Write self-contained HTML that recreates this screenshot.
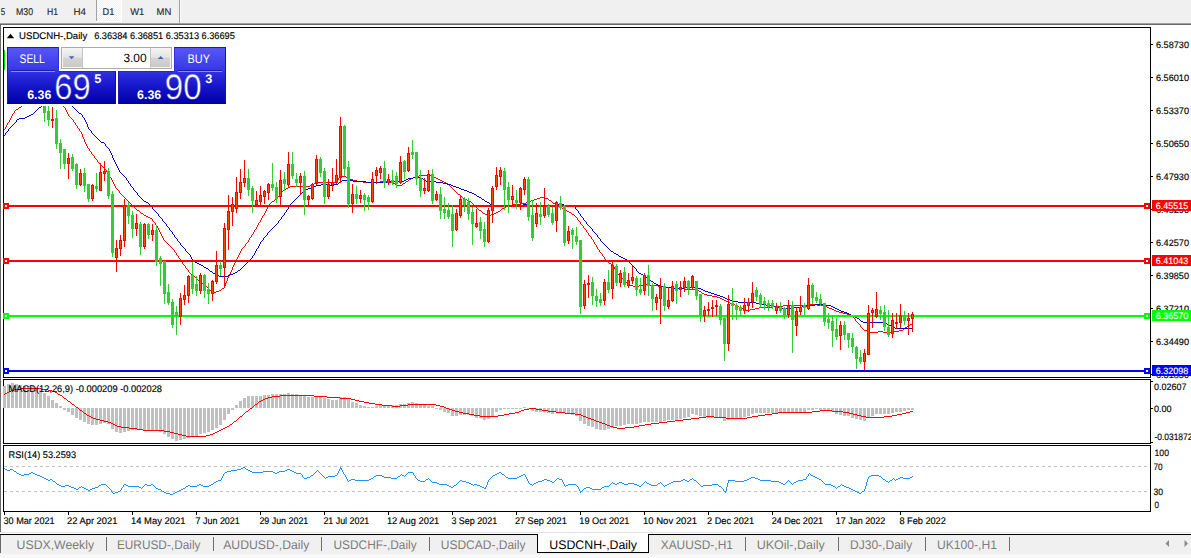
<!DOCTYPE html>
<html><head><meta charset="utf-8"><title>USDCNH Daily</title><style>html,body{margin:0;padding:0;background:#fff;}body{width:1191px;height:558px;overflow:hidden;position:relative;font-family:"Liberation Sans",sans-serif;}</style></head><body><svg width="1191" height="558" viewBox="0 0 1191 558" style="display:block;position:absolute;left:0;top:0" font-family="Liberation Sans, sans-serif" text-rendering="geometricPrecision"><g shape-rendering="crispEdges"><rect x="0" y="0" width="1191" height="558" fill="#fff" /><rect x="0" y="0" width="1191" height="23" fill="#f0f0f0" /><rect x="0" y="23" width="1191" height="1" fill="#a0a0a0" /><rect x="0" y="24" width="1191" height="1" fill="#696969" /><rect x="0" y="24" width="1" height="508" fill="#696969" /><rect x="96" y="0" width="1" height="21" fill="#a0a0a0" /><defs><pattern id="ck" width="2" height="2" patternUnits="userSpaceOnUse"><rect width="2" height="2" fill="#f0f0f0"/><rect width="1" height="1" fill="#fff"/><rect x="1" y="1" width="1" height="1" fill="#fff"/></pattern></defs><rect x="97" y="0" width="24" height="21" fill="url(#ck)" /><rect x="121" y="0" width="1" height="22" fill="#fff" /><rect x="96" y="21" width="26" height="1" fill="#fff" /><rect x="179" y="0" width="1" height="23" fill="#a0a0a0" /><rect x="180" y="0" width="1" height="23" fill="#fbfbfb" /><rect x="3" y="27" width="1148" height="1" fill="#000" /><rect x="3" y="377" width="1148" height="1" fill="#000" /><rect x="3" y="27" width="1" height="351" fill="#000" /><rect x="1150" y="27" width="1" height="351" fill="#000" /><rect x="3" y="379" width="1148" height="1" fill="#000" /><rect x="3" y="443" width="1148" height="1" fill="#000" /><rect x="3" y="379" width="1" height="65" fill="#000" /><rect x="1150" y="379" width="1" height="65" fill="#000" /><rect x="3" y="445" width="1148" height="1" fill="#000" /><rect x="3" y="511" width="1148" height="1" fill="#000" /><rect x="3" y="445" width="1" height="67" fill="#000" /><rect x="1150" y="445" width="1" height="67" fill="#000" /><rect x="1151" y="44" width="2" height="1" fill="#000" /><rect x="1151" y="77" width="2" height="1" fill="#000" /><rect x="1151" y="110" width="2" height="1" fill="#000" /><rect x="1151" y="143" width="2" height="1" fill="#000" /><rect x="1151" y="176" width="2" height="1" fill="#000" /><rect x="1151" y="209" width="2" height="1" fill="#000" /><rect x="1151" y="242" width="2" height="1" fill="#000" /><rect x="1151" y="275" width="2" height="1" fill="#000" /><rect x="1151" y="308" width="2" height="1" fill="#000" /><rect x="1151" y="341" width="2" height="1" fill="#000" /><rect x="1151" y="374" width="2" height="1" fill="#000" /><rect x="3" y="386" width="3" height="22" fill="#c0c0c0" /><rect x="7" y="384" width="3" height="24" fill="#c0c0c0" /><rect x="11" y="383" width="3" height="25" fill="#c0c0c0" /><rect x="15" y="384" width="3" height="24" fill="#c0c0c0" /><rect x="19" y="385" width="3" height="23" fill="#c0c0c0" /><rect x="23" y="386" width="3" height="22" fill="#c0c0c0" /><rect x="27" y="386" width="3" height="22" fill="#c0c0c0" /><rect x="31" y="387" width="3" height="21" fill="#c0c0c0" /><rect x="35" y="388" width="3" height="20" fill="#c0c0c0" /><rect x="39" y="390" width="3" height="18" fill="#c0c0c0" /><rect x="43" y="393" width="3" height="15" fill="#c0c0c0" /><rect x="47" y="396" width="3" height="12" fill="#c0c0c0" /><rect x="51" y="400" width="3" height="8" fill="#c0c0c0" /><rect x="55" y="403" width="3" height="5" fill="#c0c0c0" /><rect x="59" y="406" width="3" height="2" fill="#c0c0c0" /><rect x="63" y="408" width="3" height="2" fill="#c0c0c0" /><rect x="67" y="408" width="3" height="4" fill="#c0c0c0" /><rect x="71" y="408" width="3" height="7" fill="#c0c0c0" /><rect x="75" y="408" width="3" height="10" fill="#c0c0c0" /><rect x="79" y="408" width="3" height="12" fill="#c0c0c0" /><rect x="83" y="408" width="3" height="14" fill="#c0c0c0" /><rect x="87" y="408" width="3" height="16" fill="#c0c0c0" /><rect x="91" y="408" width="3" height="17" fill="#c0c0c0" /><rect x="95" y="408" width="3" height="17" fill="#c0c0c0" /><rect x="99" y="408" width="3" height="16" fill="#c0c0c0" /><rect x="103" y="408" width="3" height="15" fill="#c0c0c0" /><rect x="107" y="408" width="3" height="16" fill="#c0c0c0" /><rect x="111" y="408" width="3" height="21" fill="#c0c0c0" /><rect x="115" y="408" width="3" height="24" fill="#c0c0c0" /><rect x="119" y="408" width="3" height="25" fill="#c0c0c0" /><rect x="123" y="408" width="3" height="24" fill="#c0c0c0" /><rect x="127" y="408" width="3" height="23" fill="#c0c0c0" /><rect x="131" y="408" width="3" height="22" fill="#c0c0c0" /><rect x="135" y="408" width="3" height="22" fill="#c0c0c0" /><rect x="139" y="408" width="3" height="22" fill="#c0c0c0" /><rect x="143" y="408" width="3" height="22" fill="#c0c0c0" /><rect x="147" y="408" width="3" height="22" fill="#c0c0c0" /><rect x="151" y="408" width="3" height="22" fill="#c0c0c0" /><rect x="155" y="408" width="3" height="22" fill="#c0c0c0" /><rect x="159" y="408" width="3" height="24" fill="#c0c0c0" /><rect x="163" y="408" width="3" height="26" fill="#c0c0c0" /><rect x="167" y="408" width="3" height="29" fill="#c0c0c0" /><rect x="171" y="408" width="3" height="31" fill="#c0c0c0" /><rect x="175" y="408" width="3" height="33" fill="#c0c0c0" /><rect x="179" y="408" width="3" height="32" fill="#c0c0c0" /><rect x="183" y="408" width="3" height="31" fill="#c0c0c0" /><rect x="187" y="408" width="3" height="30" fill="#c0c0c0" /><rect x="191" y="408" width="3" height="29" fill="#c0c0c0" /><rect x="195" y="408" width="3" height="28" fill="#c0c0c0" /><rect x="199" y="408" width="3" height="26" fill="#c0c0c0" /><rect x="203" y="408" width="3" height="25" fill="#c0c0c0" /><rect x="207" y="408" width="3" height="24" fill="#c0c0c0" /><rect x="211" y="408" width="3" height="22" fill="#c0c0c0" /><rect x="215" y="408" width="3" height="20" fill="#c0c0c0" /><rect x="219" y="408" width="3" height="17" fill="#c0c0c0" /><rect x="223" y="408" width="3" height="12" fill="#c0c0c0" /><rect x="227" y="408" width="3" height="6" fill="#c0c0c0" /><rect x="231" y="408" width="3" height="2" fill="#c0c0c0" /><rect x="235" y="405" width="3" height="3" fill="#c0c0c0" /><rect x="239" y="401" width="3" height="7" fill="#c0c0c0" /><rect x="243" y="398" width="3" height="10" fill="#c0c0c0" /><rect x="247" y="396" width="3" height="12" fill="#c0c0c0" /><rect x="251" y="396" width="3" height="12" fill="#c0c0c0" /><rect x="255" y="396" width="3" height="12" fill="#c0c0c0" /><rect x="259" y="396" width="3" height="12" fill="#c0c0c0" /><rect x="263" y="395" width="3" height="13" fill="#c0c0c0" /><rect x="267" y="395" width="3" height="13" fill="#c0c0c0" /><rect x="271" y="394" width="3" height="14" fill="#c0c0c0" /><rect x="275" y="394" width="3" height="14" fill="#c0c0c0" /><rect x="279" y="394" width="3" height="14" fill="#c0c0c0" /><rect x="283" y="394" width="3" height="14" fill="#c0c0c0" /><rect x="287" y="393" width="3" height="15" fill="#c0c0c0" /><rect x="291" y="394" width="3" height="14" fill="#c0c0c0" /><rect x="295" y="394" width="3" height="14" fill="#c0c0c0" /><rect x="299" y="395" width="3" height="13" fill="#c0c0c0" /><rect x="303" y="396" width="3" height="12" fill="#c0c0c0" /><rect x="307" y="397" width="3" height="11" fill="#c0c0c0" /><rect x="311" y="397" width="3" height="11" fill="#c0c0c0" /><rect x="315" y="397" width="3" height="11" fill="#c0c0c0" /><rect x="319" y="397" width="3" height="11" fill="#c0c0c0" /><rect x="323" y="398" width="3" height="10" fill="#c0c0c0" /><rect x="327" y="399" width="3" height="9" fill="#c0c0c0" /><rect x="331" y="400" width="3" height="8" fill="#c0c0c0" /><rect x="335" y="400" width="3" height="8" fill="#c0c0c0" /><rect x="339" y="397" width="3" height="11" fill="#c0c0c0" /><rect x="343" y="397" width="3" height="11" fill="#c0c0c0" /><rect x="347" y="399" width="3" height="9" fill="#c0c0c0" /><rect x="351" y="402" width="3" height="6" fill="#c0c0c0" /><rect x="355" y="403" width="3" height="5" fill="#c0c0c0" /><rect x="359" y="405" width="3" height="3" fill="#c0c0c0" /><rect x="363" y="406" width="3" height="2" fill="#c0c0c0" /><rect x="367" y="407" width="3" height="1" fill="#c0c0c0" /><rect x="371" y="407" width="3" height="1" fill="#c0c0c0" /><rect x="375" y="406" width="3" height="2" fill="#c0c0c0" /><rect x="379" y="405" width="3" height="3" fill="#c0c0c0" /><rect x="383" y="405" width="3" height="3" fill="#c0c0c0" /><rect x="387" y="405" width="3" height="3" fill="#c0c0c0" /><rect x="391" y="405" width="3" height="3" fill="#c0c0c0" /><rect x="395" y="405" width="3" height="3" fill="#c0c0c0" /><rect x="399" y="404" width="3" height="4" fill="#c0c0c0" /><rect x="403" y="404" width="3" height="4" fill="#c0c0c0" /><rect x="407" y="403" width="3" height="5" fill="#c0c0c0" /><rect x="411" y="402" width="3" height="6" fill="#c0c0c0" /><rect x="415" y="403" width="3" height="5" fill="#c0c0c0" /><rect x="419" y="404" width="3" height="4" fill="#c0c0c0" /><rect x="423" y="405" width="3" height="3" fill="#c0c0c0" /><rect x="427" y="406" width="3" height="2" fill="#c0c0c0" /><rect x="431" y="406" width="3" height="2" fill="#c0c0c0" /><rect x="435" y="408" width="3" height="1" fill="#c0c0c0" /><rect x="439" y="408" width="3" height="2" fill="#c0c0c0" /><rect x="443" y="408" width="3" height="4" fill="#c0c0c0" /><rect x="447" y="408" width="3" height="5" fill="#c0c0c0" /><rect x="451" y="408" width="3" height="8" fill="#c0c0c0" /><rect x="455" y="408" width="3" height="8" fill="#c0c0c0" /><rect x="459" y="408" width="3" height="7" fill="#c0c0c0" /><rect x="463" y="408" width="3" height="7" fill="#c0c0c0" /><rect x="467" y="408" width="3" height="7" fill="#c0c0c0" /><rect x="471" y="408" width="3" height="8" fill="#c0c0c0" /><rect x="475" y="408" width="3" height="10" fill="#c0c0c0" /><rect x="479" y="408" width="3" height="10" fill="#c0c0c0" /><rect x="483" y="408" width="3" height="12" fill="#c0c0c0" /><rect x="487" y="408" width="3" height="11" fill="#c0c0c0" /><rect x="491" y="408" width="3" height="8" fill="#c0c0c0" /><rect x="495" y="408" width="3" height="4" fill="#c0c0c0" /><rect x="499" y="408" width="3" height="2" fill="#c0c0c0" /><rect x="503" y="408" width="3" height="1" fill="#c0c0c0" /><rect x="507" y="408" width="3" height="1" fill="#c0c0c0" /><rect x="511" y="408" width="3" height="1" fill="#c0c0c0" /><rect x="515" y="408" width="3" height="1" fill="#c0c0c0" /><rect x="519" y="408" width="3" height="1" fill="#c0c0c0" /><rect x="523" y="407" width="3" height="1" fill="#c0c0c0" /><rect x="527" y="408" width="3" height="1" fill="#c0c0c0" /><rect x="531" y="408" width="3" height="3" fill="#c0c0c0" /><rect x="535" y="408" width="3" height="4" fill="#c0c0c0" /><rect x="539" y="408" width="3" height="4" fill="#c0c0c0" /><rect x="543" y="408" width="3" height="4" fill="#c0c0c0" /><rect x="547" y="408" width="3" height="5" fill="#c0c0c0" /><rect x="551" y="408" width="3" height="6" fill="#c0c0c0" /><rect x="555" y="408" width="3" height="4" fill="#c0c0c0" /><rect x="559" y="408" width="3" height="4" fill="#c0c0c0" /><rect x="563" y="408" width="3" height="5" fill="#c0c0c0" /><rect x="567" y="408" width="3" height="6" fill="#c0c0c0" /><rect x="571" y="408" width="3" height="7" fill="#c0c0c0" /><rect x="575" y="408" width="3" height="8" fill="#c0c0c0" /><rect x="579" y="408" width="3" height="13" fill="#c0c0c0" /><rect x="583" y="408" width="3" height="16" fill="#c0c0c0" /><rect x="587" y="408" width="3" height="18" fill="#c0c0c0" /><rect x="591" y="408" width="3" height="19" fill="#c0c0c0" /><rect x="595" y="408" width="3" height="21" fill="#c0c0c0" /><rect x="599" y="408" width="3" height="22" fill="#c0c0c0" /><rect x="603" y="408" width="3" height="22" fill="#c0c0c0" /><rect x="607" y="408" width="3" height="21" fill="#c0c0c0" /><rect x="611" y="408" width="3" height="20" fill="#c0c0c0" /><rect x="615" y="408" width="3" height="18" fill="#c0c0c0" /><rect x="619" y="408" width="3" height="18" fill="#c0c0c0" /><rect x="623" y="408" width="3" height="17" fill="#c0c0c0" /><rect x="627" y="408" width="3" height="16" fill="#c0c0c0" /><rect x="631" y="408" width="3" height="16" fill="#c0c0c0" /><rect x="635" y="408" width="3" height="16" fill="#c0c0c0" /><rect x="639" y="408" width="3" height="15" fill="#c0c0c0" /><rect x="643" y="408" width="3" height="14" fill="#c0c0c0" /><rect x="647" y="408" width="3" height="14" fill="#c0c0c0" /><rect x="651" y="408" width="3" height="14" fill="#c0c0c0" /><rect x="655" y="408" width="3" height="14" fill="#c0c0c0" /><rect x="659" y="408" width="3" height="14" fill="#c0c0c0" /><rect x="663" y="408" width="3" height="13" fill="#c0c0c0" /><rect x="667" y="408" width="3" height="12" fill="#c0c0c0" /><rect x="671" y="408" width="3" height="12" fill="#c0c0c0" /><rect x="675" y="408" width="3" height="12" fill="#c0c0c0" /><rect x="679" y="408" width="3" height="11" fill="#c0c0c0" /><rect x="683" y="408" width="3" height="10" fill="#c0c0c0" /><rect x="687" y="408" width="3" height="9" fill="#c0c0c0" /><rect x="691" y="408" width="3" height="6" fill="#c0c0c0" /><rect x="695" y="408" width="3" height="7" fill="#c0c0c0" /><rect x="699" y="408" width="3" height="8" fill="#c0c0c0" /><rect x="703" y="408" width="3" height="9" fill="#c0c0c0" /><rect x="707" y="408" width="3" height="10" fill="#c0c0c0" /><rect x="711" y="408" width="3" height="10" fill="#c0c0c0" /><rect x="715" y="408" width="3" height="10" fill="#c0c0c0" /><rect x="719" y="408" width="3" height="10" fill="#c0c0c0" /><rect x="723" y="408" width="3" height="13" fill="#c0c0c0" /><rect x="727" y="408" width="3" height="12" fill="#c0c0c0" /><rect x="731" y="408" width="3" height="11" fill="#c0c0c0" /><rect x="735" y="408" width="3" height="10" fill="#c0c0c0" /><rect x="739" y="408" width="3" height="10" fill="#c0c0c0" /><rect x="743" y="408" width="3" height="9" fill="#c0c0c0" /><rect x="747" y="408" width="3" height="8" fill="#c0c0c0" /><rect x="751" y="408" width="3" height="6" fill="#c0c0c0" /><rect x="755" y="408" width="3" height="5" fill="#c0c0c0" /><rect x="759" y="408" width="3" height="5" fill="#c0c0c0" /><rect x="763" y="408" width="3" height="5" fill="#c0c0c0" /><rect x="767" y="408" width="3" height="5" fill="#c0c0c0" /><rect x="771" y="408" width="3" height="5" fill="#c0c0c0" /><rect x="775" y="408" width="3" height="5" fill="#c0c0c0" /><rect x="779" y="408" width="3" height="4" fill="#c0c0c0" /><rect x="783" y="408" width="3" height="4" fill="#c0c0c0" /><rect x="787" y="408" width="3" height="4" fill="#c0c0c0" /><rect x="791" y="408" width="3" height="4" fill="#c0c0c0" /><rect x="795" y="408" width="3" height="5" fill="#c0c0c0" /><rect x="799" y="408" width="3" height="4" fill="#c0c0c0" /><rect x="803" y="408" width="3" height="4" fill="#c0c0c0" /><rect x="807" y="408" width="3" height="2" fill="#c0c0c0" /><rect x="811" y="408" width="3" height="2" fill="#c0c0c0" /><rect x="815" y="408" width="3" height="1" fill="#c0c0c0" /><rect x="819" y="408" width="3" height="2" fill="#c0c0c0" /><rect x="823" y="408" width="3" height="2" fill="#c0c0c0" /><rect x="827" y="408" width="3" height="3" fill="#c0c0c0" /><rect x="831" y="408" width="3" height="4" fill="#c0c0c0" /><rect x="835" y="408" width="3" height="6" fill="#c0c0c0" /><rect x="839" y="408" width="3" height="7" fill="#c0c0c0" /><rect x="843" y="408" width="3" height="8" fill="#c0c0c0" /><rect x="847" y="408" width="3" height="8" fill="#c0c0c0" /><rect x="851" y="408" width="3" height="10" fill="#c0c0c0" /><rect x="855" y="408" width="3" height="11" fill="#c0c0c0" /><rect x="859" y="408" width="3" height="12" fill="#c0c0c0" /><rect x="863" y="408" width="3" height="13" fill="#c0c0c0" /><rect x="867" y="408" width="3" height="10" fill="#c0c0c0" /><rect x="871" y="408" width="3" height="8" fill="#c0c0c0" /><rect x="875" y="408" width="3" height="6" fill="#c0c0c0" /><rect x="879" y="408" width="3" height="6" fill="#c0c0c0" /><rect x="883" y="408" width="3" height="6" fill="#c0c0c0" /><rect x="887" y="408" width="3" height="6" fill="#c0c0c0" /><rect x="891" y="408" width="3" height="5" fill="#c0c0c0" /><rect x="895" y="408" width="3" height="4" fill="#c0c0c0" /><rect x="899" y="408" width="3" height="4" fill="#c0c0c0" /><rect x="903" y="408" width="3" height="3" fill="#c0c0c0" /><rect x="907" y="408" width="3" height="2" fill="#c0c0c0" /><rect x="911" y="408" width="3" height="2" fill="#c0c0c0" /><line x1="4" y1="466.5" x2="1150" y2="466.5" stroke="#c0c0c0" stroke-width="1" stroke-dasharray="3,3"/><line x1="4" y1="491.5" x2="1150" y2="491.5" stroke="#c0c0c0" stroke-width="1" stroke-dasharray="3,3"/><rect x="1151" y="381" width="2" height="1" fill="#000" /><rect x="1151" y="408" width="2" height="1" fill="#000" /><rect x="1151" y="442" width="2" height="1" fill="#000" /><rect x="4" y="512" width="1" height="3" fill="#000" /><rect x="68" y="512" width="1" height="3" fill="#000" /><rect x="132" y="512" width="1" height="3" fill="#000" /><rect x="196" y="512" width="1" height="3" fill="#000" /><rect x="260" y="512" width="1" height="3" fill="#000" /><rect x="324" y="512" width="1" height="3" fill="#000" /><rect x="388" y="512" width="1" height="3" fill="#000" /><rect x="452" y="512" width="1" height="3" fill="#000" /><rect x="516" y="512" width="1" height="3" fill="#000" /><rect x="580" y="512" width="1" height="3" fill="#000" /><rect x="644" y="512" width="1" height="3" fill="#000" /><rect x="708" y="512" width="1" height="3" fill="#000" /><rect x="772" y="512" width="1" height="3" fill="#000" /><rect x="836" y="512" width="1" height="3" fill="#000" /><rect x="900" y="512" width="1" height="3" fill="#000" /><rect x="0" y="532" width="1191" height="1" fill="#e3e3e3" /><rect x="0" y="533" width="1191" height="1" fill="#fff" /><rect x="0" y="534" width="1191" height="1" fill="#000" /><rect x="0" y="535" width="1191" height="19" fill="#f0f0f0" /><rect x="0" y="554" width="1191" height="4" fill="#f9f9f9" /><rect x="0" y="535" width="1" height="18" fill="#696969" /><rect x="537" y="534" width="112" height="19" fill="#000" /><rect x="538" y="533" width="110" height="19" fill="#fff" /><rect x="106" y="537" width="1" height="14" fill="#6e6e6e" /><rect x="213" y="537" width="1" height="14" fill="#6e6e6e" /><rect x="321" y="537" width="1" height="14" fill="#6e6e6e" /><rect x="429" y="537" width="1" height="14" fill="#6e6e6e" /><rect x="745" y="537" width="1" height="14" fill="#6e6e6e" /><rect x="838" y="537" width="1" height="14" fill="#6e6e6e" /><rect x="925" y="537" width="1" height="14" fill="#6e6e6e" /><rect x="1009" y="537" width="1" height="14" fill="#6e6e6e" /></g><g shape-rendering="crispEdges"><path d="M23 104h1M22 105h1M21 106h1M19 107h2M18 108h1M16 109h2M15 110h1M14 111h1M14 112h1M13 113h1M12 114h1M12 115h1M11 116h1M11 117h1M10 118h1M10 119h1M9 120h1M9 121h1M8 122h1M7 123h1M7 124h1M6 125h1M6 126h1M5 127h1M5 128h1M4 129h1" transform="translate(0,0.5)" fill="none" stroke="#ff0000" stroke-width="1"/><path d="M61 103h1M62 104h1M62 105h1M63 106h1M64 107h1M65 108h1M65 109h1M66 110h1M66 111h1M67 112h1M67 113h1M68 114h1M68 115h1M69 116h1M70 117h1M71 118h1M72 119h1M73 120h1M73 121h1M74 122h1M75 123h1M75 124h1M76 125h1M77 126h1M77 127h1M78 128h1M79 129h1M79 130h1M80 131h1M81 132h1M81 133h1M82 134h1M82 135h1M82 136h1M83 137h1M83 138h1M84 139h1M84 140h1M84 141h1M85 142h1M85 143h1M86 144h1M86 145h1M87 146h1M87 147h1M88 148h1M89 149h1M89 150h1M90 151h1M91 152h1M91 153h1M92 154h1M93 155h1M94 156h1M94 157h1M95 158h1M96 159h1M97 160h1M97 161h1M98 162h1M99 163h1M100 164h1M101 165h1M102 166h1M103 167h1M104 168h1M105 169h1M106 170h1M106 171h1M107 172h1M108 173h1M108 174h1M109 175h1M419 175h12M109 176h1M342 176h4M415 176h4M431 176h2M110 177h1M339 177h3M346 177h2M413 177h2M433 177h3M111 178h1M338 178h1M348 178h2M411 178h2M436 178h2M111 179h1M338 179h1M350 179h3M409 179h2M438 179h2M112 180h1M337 180h1M353 180h4M408 180h1M440 180h2M112 181h1M337 181h1M357 181h6M380 181h9M406 181h2M442 181h2M113 182h1M318 182h19M363 182h17M389 182h4M405 182h1M444 182h2M113 183h1M314 183h4M393 183h2M403 183h2M446 183h2M114 184h1M312 184h2M395 184h2M402 184h1M448 184h1M114 185h1M310 185h2M397 185h5M449 185h1M115 186h1M290 186h20M450 186h1M115 187h1M288 187h2M451 187h1M116 188h1M286 188h2M452 188h1M117 189h1M285 189h1M453 189h1M118 190h1M283 190h2M454 190h1M119 191h1M282 191h1M455 191h1M119 192h1M281 192h1M456 192h1M120 193h1M280 193h1M457 193h1M121 194h1M279 194h1M458 194h2M122 195h1M279 195h1M460 195h1M123 196h1M278 196h1M461 196h1M124 197h1M277 197h1M462 197h1M540 197h4M125 198h1M276 198h1M463 198h2M537 198h3M544 198h4M126 199h1M275 199h1M465 199h2M534 199h3M548 199h1M127 200h1M274 200h1M467 200h2M531 200h3M549 200h2M128 201h1M272 201h2M469 201h2M528 201h3M551 201h1M129 202h1M271 202h1M471 202h1M526 202h2M552 202h1M130 203h1M270 203h1M472 203h1M521 203h5M553 203h2M131 204h1M269 204h1M473 204h1M513 204h8M555 204h2M132 205h1M268 205h1M474 205h1M508 205h5M557 205h2M133 206h1M268 206h1M475 206h1M506 206h2M559 206h2M134 207h1M267 207h1M476 207h1M504 207h2M561 207h1M135 208h1M267 208h1M477 208h1M502 208h2M562 208h2M136 209h1M266 209h1M478 209h1M501 209h1M564 209h1M137 210h2M266 210h1M479 210h2M500 210h1M565 210h2M139 211h1M265 211h1M481 211h1M498 211h2M567 211h2M140 212h1M265 212h1M482 212h1M496 212h2M569 212h2M141 213h2M264 213h1M483 213h2M494 213h2M571 213h1M143 214h1M264 214h1M485 214h2M491 214h3M572 214h2M144 215h2M263 215h1M487 215h4M574 215h1M146 216h2M262 216h1M575 216h1M148 217h2M262 217h1M576 217h1M150 218h2M261 218h1M577 218h1M152 219h1M261 219h1M577 219h1M152 220h1M260 220h1M578 220h1M153 221h1M260 221h1M579 221h1M154 222h1M259 222h1M580 222h1M155 223h1M258 223h1M580 223h1M155 224h1M258 224h1M581 224h1M156 225h1M257 225h1M582 225h1M157 226h1M257 226h1M583 226h1M157 227h1M256 227h1M583 227h1M158 228h1M256 228h1M584 228h1M158 229h1M255 229h1M585 229h1M159 230h1M254 230h1M586 230h1M159 231h1M254 231h1M586 231h1M160 232h1M253 232h1M587 232h1M160 233h1M253 233h1M588 233h1M161 234h1M252 234h1M588 234h1M161 235h1M251 235h1M589 235h1M162 236h1M251 236h1M590 236h1M162 237h1M250 237h1M591 237h1M163 238h1M249 238h1M591 238h1M163 239h1M249 239h1M592 239h1M164 240h1M248 240h1M593 240h1M165 241h1M248 241h1M593 241h1M166 242h1M247 242h1M594 242h1M167 243h1M246 243h1M594 243h1M168 244h1M245 244h1M595 244h1M169 245h1M245 245h1M596 245h1M170 246h1M244 246h1M596 246h1M171 247h1M243 247h1M597 247h1M172 248h1M242 248h1M597 248h1M173 249h1M241 249h1M598 249h1M174 250h1M241 250h1M599 250h1M174 251h1M240 251h1M599 251h1M175 252h1M240 252h1M600 252h1M176 253h1M239 253h1M601 253h1M176 254h1M239 254h1M602 254h1M177 255h1M238 255h1M602 255h1M178 256h1M238 256h1M603 256h1M178 257h1M237 257h1M604 257h1M179 258h1M237 258h1M604 258h1M180 259h1M236 259h1M605 259h1M180 260h1M236 260h1M606 260h1M181 261h1M235 261h1M607 261h1M182 262h1M235 262h1M608 262h1M182 263h1M234 263h1M609 263h2M183 264h1M234 264h1M611 264h1M184 265h1M233 265h1M612 265h1M185 266h1M233 266h1M613 266h1M185 267h1M232 267h1M614 267h1M186 268h1M232 268h1M614 268h1M187 269h1M232 269h1M615 269h1M188 270h1M231 270h1M616 270h1M188 271h1M231 271h1M616 271h1M189 272h1M230 272h1M617 272h1M190 273h1M230 273h1M617 273h1M191 274h1M229 274h1M618 274h1M192 275h2M229 275h1M619 275h1M194 276h1M228 276h1M620 276h1M195 277h1M228 277h1M621 277h1M196 278h1M227 278h1M622 278h1M197 279h1M227 279h1M623 279h1M198 280h2M227 280h1M624 280h1M200 281h1M226 281h1M625 281h1M201 282h1M226 282h1M626 282h1M202 283h1M225 283h1M627 283h2M203 284h1M225 284h1M629 284h1M643 284h7M204 285h1M225 285h1M630 285h3M639 285h4M650 285h8M205 286h2M224 286h1M633 286h6M658 286h5M207 287h1M224 287h1M663 287h9M208 288h1M222 288h2M672 288h12M209 289h1M221 289h1M684 289h14M210 290h2M219 290h2M698 290h1M212 291h1M216 291h3M699 291h2M213 292h3M701 292h1M702 293h2M704 294h3M707 295h5M712 296h5M717 297h3M720 298h2M722 299h2M724 300h2M726 301h2M728 302h2M730 303h3M733 304h2M810 304h7M735 305h2M783 305h21M808 305h2M817 305h8M737 306h2M773 306h10M804 306h4M825 306h2M739 307h3M759 307h14M827 307h2M742 308h2M755 308h4M829 308h3M744 309h2M750 309h5M832 309h2M746 310h4M834 310h2M836 311h3M839 312h4M843 313h4M847 314h2M849 315h2M851 316h2M853 317h1M854 318h1M855 319h1M855 320h1M856 321h1M857 322h1M858 323h1M859 324h1M910 324h3M860 325h1M909 325h1M860 326h1M907 326h2M861 327h1M905 327h2M862 328h1M904 328h1M863 329h1M903 329h1M864 330h4M899 330h4M868 331h2M878 331h5M892 331h7M870 332h8M883 332h9" transform="translate(0,0.5)" fill="none" stroke="#ff0000" stroke-width="1"/><path d="M42 104h1M42 105h1M41 106h1M39 107h2M38 108h1M37 109h1M36 110h1M35 111h1M34 112h1M33 113h1M31 114h2M29 115h2M27 116h2M25 117h2M19 118h6M17 119h2M16 120h1M16 121h1M15 122h1M14 123h1M13 124h1M12 125h1M11 126h1M10 127h1M9 128h1M8 129h1M8 130h1M7 131h1M6 132h1M5 133h1M5 134h1M4 135h1" transform="translate(0,0.5)" fill="none" stroke="#0000cd" stroke-width="1"/><path d="M70 104h1M71 105h1M72 106h1M73 107h1M74 108h1M75 109h1M76 110h1M77 111h1M78 112h1M79 113h2M81 114h1M82 115h1M82 116h1M83 117h1M84 118h1M84 119h1M85 120h1M85 121h1M86 122h1M86 123h1M87 124h1M87 125h1M87 126h1M88 127h1M88 128h1M89 129h1M90 130h1M91 131h1M91 132h1M92 133h1M93 134h1M94 135h1M95 136h1M96 137h1M97 138h1M98 139h1M99 140h1M100 141h1M101 142h3M104 143h1M105 144h1M105 145h1M106 146h1M107 147h1M108 148h1M109 149h1M109 150h1M110 151h1M110 152h1M111 153h1M111 154h1M112 155h1M112 156h1M112 157h1M113 158h1M113 159h1M114 160h1M114 161h1M115 162h1M115 163h1M116 164h1M116 165h1M117 166h1M117 167h1M118 168h1M118 169h1M119 170h1M119 171h1M120 172h1M121 173h1M122 174h1M123 175h1M124 176h1M125 177h1M413 177h7M126 178h1M408 178h5M420 178h3M126 179h1M406 179h2M423 179h1M127 180h1M342 180h11M404 180h2M424 180h2M128 181h1M341 181h1M353 181h13M389 181h15M426 181h10M128 182h1M339 182h2M366 182h23M436 182h7M129 183h1M338 183h1M443 183h4M130 184h1M321 184h7M334 184h4M447 184h4M130 185h1M316 185h5M328 185h6M451 185h2M131 186h1M313 186h3M453 186h3M132 187h1M311 187h2M456 187h3M133 188h1M308 188h3M459 188h2M133 189h1M306 189h2M461 189h3M134 190h1M304 190h2M464 190h3M135 191h1M303 191h1M467 191h2M136 192h1M302 192h1M469 192h3M137 193h1M301 193h1M472 193h2M137 194h1M300 194h1M474 194h2M138 195h1M299 195h1M476 195h1M139 196h1M298 196h1M477 196h2M140 197h1M297 197h1M479 197h2M141 198h1M296 198h1M481 198h1M142 199h1M295 199h1M482 199h2M143 200h1M294 200h1M484 200h1M144 201h2M293 201h1M485 201h2M146 202h2M292 202h1M487 202h2M148 203h1M291 203h1M489 203h1M149 204h1M290 204h1M490 204h1M523 204h5M557 204h7M150 205h1M289 205h1M491 205h2M505 205h18M528 205h29M564 205h6M151 206h1M289 206h1M493 206h12M570 206h5M152 207h1M288 207h1M575 207h1M152 208h1M288 208h1M575 208h1M153 209h1M287 209h1M576 209h1M154 210h1M286 210h1M577 210h1M155 211h1M286 211h1M578 211h1M156 212h1M285 212h1M578 212h1M157 213h1M284 213h1M579 213h1M158 214h1M284 214h1M580 214h1M158 215h1M283 215h1M580 215h1M159 216h1M282 216h1M581 216h1M160 217h1M281 217h1M582 217h1M161 218h1M281 218h1M583 218h1M162 219h1M280 219h1M583 219h1M162 220h1M279 220h1M584 220h1M163 221h1M278 221h1M585 221h1M164 222h1M278 222h1M586 222h1M165 223h1M277 223h1M586 223h1M166 224h1M276 224h1M587 224h1M166 225h1M275 225h1M588 225h1M167 226h1M274 226h1M589 226h1M168 227h1M273 227h1M590 227h1M169 228h1M272 228h1M591 228h1M169 229h1M271 229h1M592 229h1M170 230h1M270 230h1M592 230h1M171 231h1M269 231h1M593 231h1M172 232h1M268 232h1M594 232h1M172 233h1M267 233h1M595 233h1M173 234h1M267 234h1M596 234h1M174 235h1M266 235h1M597 235h1M174 236h1M265 236h1M597 236h1M175 237h1M264 237h1M598 237h1M176 238h1M263 238h1M599 238h1M177 239h1M263 239h1M600 239h1M177 240h1M262 240h1M600 240h1M178 241h1M261 241h1M601 241h1M179 242h1M260 242h1M602 242h1M180 243h1M260 243h1M603 243h1M180 244h1M259 244h1M604 244h1M181 245h1M259 245h1M605 245h1M182 246h1M258 246h1M606 246h1M183 247h1M258 247h1M607 247h1M184 248h1M257 248h1M608 248h1M185 249h1M256 249h1M609 249h1M185 250h1M256 250h1M610 250h1M186 251h1M255 251h1M611 251h2M187 252h1M255 252h1M613 252h1M188 253h1M254 253h1M614 253h2M189 254h1M254 254h1M616 254h2M190 255h1M253 255h1M618 255h1M190 256h1M252 256h1M619 256h2M191 257h1M252 257h1M621 257h2M191 258h1M251 258h1M623 258h2M192 259h1M250 259h1M625 259h2M192 260h1M249 260h1M627 260h1M193 261h2M248 261h1M628 261h1M195 262h2M247 262h1M629 262h1M197 263h2M246 263h1M630 263h1M199 264h2M245 264h1M631 264h1M201 265h2M244 265h1M632 265h1M203 266h1M243 266h1M633 266h1M204 267h2M242 267h1M634 267h1M206 268h2M241 268h1M635 268h1M208 269h1M240 269h1M636 269h1M209 270h1M238 270h2M636 270h1M210 271h2M237 271h1M637 271h1M212 272h1M235 272h2M638 272h1M213 273h2M233 273h2M639 273h2M215 274h2M230 274h3M641 274h2M217 275h2M228 275h2M643 275h2M219 276h9M645 276h1M646 277h2M648 278h1M649 279h1M650 280h1M651 281h2M653 282h1M654 283h2M656 284h2M658 285h2M660 286h4M664 287h9M685 287h11M673 288h12M696 288h5M701 289h2M703 290h2M705 291h3M708 292h3M711 293h3M714 294h3M717 295h3M720 296h3M723 297h2M725 298h2M727 299h3M730 300h3M733 301h5M738 302h18M756 303h6M762 304h4M815 304h11M766 305h5M806 305h9M826 305h5M771 306h4M802 306h4M831 306h2M775 307h7M793 307h9M833 307h2M782 308h11M835 308h2M837 309h2M839 310h2M841 311h3M844 312h3M847 313h2M849 314h2M851 315h2M853 316h2M855 317h2M857 318h2M859 319h1M860 320h1M861 321h2M863 322h22M885 323h2M887 324h2M889 325h2M891 326h2M893 327h2M895 328h18" transform="translate(0,0.5)" fill="none" stroke="#0000cd" stroke-width="1"/></g><g shape-rendering="crispEdges"><rect x="4" y="205" width="1146" height="2" fill="#ff0000" /><rect x="3" y="203" width="6" height="6" fill="#ff0000" /><rect x="5" y="205" width="2" height="2" fill="#fff" /><rect x="1144" y="203" width="6" height="6" fill="#ff0000" /><rect x="1146" y="205" width="2" height="2" fill="#fff" /><rect x="4" y="260" width="1146" height="2" fill="#ff0000" /><rect x="3" y="258" width="6" height="6" fill="#ff0000" /><rect x="5" y="260" width="2" height="2" fill="#fff" /><rect x="1144" y="258" width="6" height="6" fill="#ff0000" /><rect x="1146" y="260" width="2" height="2" fill="#fff" /><rect x="4" y="315" width="1146" height="2" fill="#00ff00" /><rect x="3" y="313" width="6" height="6" fill="#00ff00" /><rect x="5" y="315" width="2" height="2" fill="#fff" /><rect x="1144" y="313" width="6" height="6" fill="#00ff00" /><rect x="1146" y="315" width="2" height="2" fill="#fff" /><rect x="4" y="370" width="1146" height="2" fill="#0000ff" /><rect x="3" y="368" width="6" height="6" fill="#0000ff" /><rect x="5" y="370" width="2" height="2" fill="#fff" /><rect x="1144" y="368" width="6" height="6" fill="#0000ff" /><rect x="1146" y="370" width="2" height="2" fill="#fff" /></g><g shape-rendering="crispEdges"><rect x="4" y="50" width="1" height="20" fill="#00e000" /><rect x="44" y="100" width="1" height="22" fill="#32cd32" /><rect x="43" y="100" width="3" height="13" fill="#32cd32" /><rect x="48" y="100" width="1" height="26" fill="#32cd32" /><rect x="47" y="111" width="3" height="9" fill="#32cd32" /><rect x="52" y="107" width="1" height="21" fill="#ff0000" /><rect x="51" y="119" width="3" height="2" fill="#ff0000" /><rect x="56" y="110" width="1" height="39" fill="#32cd32" /><rect x="55" y="118" width="3" height="26" fill="#32cd32" /><rect x="60" y="139" width="1" height="30" fill="#32cd32" /><rect x="59" y="143" width="3" height="10" fill="#32cd32" /><rect x="64" y="149" width="1" height="20" fill="#32cd32" /><rect x="63" y="149" width="3" height="15" fill="#32cd32" /><rect x="68" y="153" width="1" height="26" fill="#ff0000" /><rect x="67" y="158" width="3" height="6" fill="#ff0000" /><rect x="68" y="159" width="1" height="4" fill="#ff4500" /><rect x="72" y="154" width="1" height="17" fill="#32cd32" /><rect x="71" y="157" width="3" height="12" fill="#32cd32" /><rect x="76" y="163" width="1" height="26" fill="#32cd32" /><rect x="75" y="164" width="3" height="21" fill="#32cd32" /><rect x="80" y="169" width="1" height="17" fill="#ff0000" /><rect x="79" y="173" width="3" height="12" fill="#ff0000" /><rect x="80" y="174" width="1" height="10" fill="#ff4500" /><rect x="84" y="168" width="1" height="24" fill="#32cd32" /><rect x="83" y="173" width="3" height="13" fill="#32cd32" /><rect x="88" y="184" width="1" height="18" fill="#32cd32" /><rect x="87" y="184" width="3" height="15" fill="#32cd32" /><rect x="92" y="184" width="1" height="17" fill="#ff0000" /><rect x="91" y="185" width="3" height="14" fill="#ff0000" /><rect x="92" y="186" width="1" height="12" fill="#ff4500" /><rect x="96" y="173" width="1" height="19" fill="#32cd32" /><rect x="95" y="186" width="3" height="3" fill="#32cd32" /><rect x="100" y="163" width="1" height="28" fill="#ff0000" /><rect x="99" y="172" width="3" height="19" fill="#ff0000" /><rect x="100" y="173" width="1" height="17" fill="#ff4500" /><rect x="104" y="161" width="1" height="20" fill="#ff0000" /><rect x="103" y="171" width="3" height="3" fill="#ff0000" /><rect x="104" y="172" width="1" height="1" fill="#ff4500" /><rect x="108" y="168" width="1" height="31" fill="#32cd32" /><rect x="107" y="171" width="3" height="25" fill="#32cd32" /><rect x="112" y="191" width="1" height="66" fill="#32cd32" /><rect x="111" y="194" width="3" height="59" fill="#32cd32" /><rect x="116" y="240" width="1" height="32" fill="#ff0000" /><rect x="115" y="248" width="3" height="10" fill="#ff0000" /><rect x="116" y="249" width="1" height="8" fill="#ff4500" /><rect x="120" y="235" width="1" height="21" fill="#ff0000" /><rect x="119" y="240" width="3" height="9" fill="#ff0000" /><rect x="120" y="241" width="1" height="7" fill="#ff4500" /><rect x="124" y="199" width="1" height="48" fill="#ff0000" /><rect x="123" y="205" width="3" height="36" fill="#ff0000" /><rect x="124" y="206" width="1" height="34" fill="#ff4500" /><rect x="128" y="202" width="1" height="22" fill="#32cd32" /><rect x="127" y="205" width="3" height="11" fill="#32cd32" /><rect x="132" y="211" width="1" height="27" fill="#32cd32" /><rect x="131" y="215" width="3" height="14" fill="#32cd32" /><rect x="136" y="214" width="1" height="22" fill="#ff0000" /><rect x="135" y="223" width="3" height="6" fill="#ff0000" /><rect x="136" y="224" width="1" height="4" fill="#ff4500" /><rect x="140" y="222" width="1" height="33" fill="#32cd32" /><rect x="139" y="224" width="3" height="23" fill="#32cd32" /><rect x="144" y="223" width="1" height="26" fill="#ff0000" /><rect x="143" y="224" width="3" height="23" fill="#ff0000" /><rect x="144" y="225" width="1" height="21" fill="#ff4500" /><rect x="148" y="223" width="1" height="16" fill="#32cd32" /><rect x="147" y="224" width="3" height="11" fill="#32cd32" /><rect x="152" y="224" width="1" height="17" fill="#ff0000" /><rect x="151" y="230" width="3" height="5" fill="#ff0000" /><rect x="152" y="231" width="1" height="3" fill="#ff4500" /><rect x="156" y="225" width="1" height="41" fill="#32cd32" /><rect x="155" y="230" width="3" height="32" fill="#32cd32" /><rect x="160" y="256" width="1" height="30" fill="#32cd32" /><rect x="159" y="258" width="3" height="6" fill="#32cd32" /><rect x="164" y="261" width="1" height="43" fill="#32cd32" /><rect x="163" y="261" width="3" height="33" fill="#32cd32" /><rect x="168" y="284" width="1" height="21" fill="#32cd32" /><rect x="167" y="292" width="3" height="11" fill="#32cd32" /><rect x="172" y="299" width="1" height="29" fill="#32cd32" /><rect x="171" y="302" width="3" height="23" fill="#32cd32" /><rect x="176" y="306" width="1" height="29" fill="#32cd32" /><rect x="175" y="312" width="3" height="5" fill="#32cd32" /><rect x="180" y="293" width="1" height="32" fill="#ff0000" /><rect x="179" y="298" width="3" height="19" fill="#ff0000" /><rect x="180" y="299" width="1" height="17" fill="#ff4500" /><rect x="184" y="285" width="1" height="20" fill="#ff0000" /><rect x="183" y="295" width="3" height="5" fill="#ff0000" /><rect x="184" y="296" width="1" height="3" fill="#ff4500" /><rect x="188" y="275" width="1" height="28" fill="#ff0000" /><rect x="187" y="276" width="3" height="20" fill="#ff0000" /><rect x="188" y="277" width="1" height="18" fill="#ff4500" /><rect x="192" y="262" width="1" height="32" fill="#32cd32" /><rect x="191" y="275" width="3" height="14" fill="#32cd32" /><rect x="196" y="276" width="1" height="20" fill="#32cd32" /><rect x="195" y="284" width="3" height="7" fill="#32cd32" /><rect x="200" y="273" width="1" height="21" fill="#ff0000" /><rect x="199" y="275" width="3" height="16" fill="#ff0000" /><rect x="200" y="276" width="1" height="14" fill="#ff4500" /><rect x="204" y="274" width="1" height="24" fill="#32cd32" /><rect x="203" y="275" width="3" height="16" fill="#32cd32" /><rect x="208" y="283" width="1" height="21" fill="#32cd32" /><rect x="207" y="289" width="3" height="5" fill="#32cd32" /><rect x="212" y="280" width="1" height="21" fill="#ff0000" /><rect x="211" y="281" width="3" height="13" fill="#ff0000" /><rect x="212" y="282" width="1" height="11" fill="#ff4500" /><rect x="216" y="251" width="1" height="33" fill="#ff0000" /><rect x="215" y="265" width="3" height="17" fill="#ff0000" /><rect x="216" y="266" width="1" height="15" fill="#ff4500" /><rect x="220" y="261" width="1" height="15" fill="#32cd32" /><rect x="219" y="265" width="3" height="4" fill="#32cd32" /><rect x="224" y="223" width="1" height="63" fill="#ff0000" /><rect x="223" y="228" width="3" height="40" fill="#ff0000" /><rect x="224" y="229" width="1" height="38" fill="#ff4500" /><rect x="228" y="195" width="1" height="55" fill="#ff0000" /><rect x="227" y="211" width="3" height="19" fill="#ff0000" /><rect x="228" y="212" width="1" height="17" fill="#ff4500" /><rect x="232" y="197" width="1" height="29" fill="#ff0000" /><rect x="231" y="204" width="3" height="8" fill="#ff0000" /><rect x="232" y="205" width="1" height="6" fill="#ff4500" /><rect x="236" y="177" width="1" height="36" fill="#ff0000" /><rect x="235" y="192" width="3" height="17" fill="#ff0000" /><rect x="236" y="193" width="1" height="15" fill="#ff4500" /><rect x="240" y="169" width="1" height="30" fill="#ff0000" /><rect x="239" y="182" width="3" height="11" fill="#ff0000" /><rect x="240" y="183" width="1" height="9" fill="#ff4500" /><rect x="244" y="160" width="1" height="27" fill="#ff0000" /><rect x="243" y="178" width="3" height="5" fill="#ff0000" /><rect x="244" y="179" width="1" height="3" fill="#ff4500" /><rect x="248" y="169" width="1" height="27" fill="#32cd32" /><rect x="247" y="178" width="3" height="12" fill="#32cd32" /><rect x="252" y="186" width="1" height="27" fill="#32cd32" /><rect x="251" y="188" width="3" height="13" fill="#32cd32" /><rect x="256" y="191" width="1" height="16" fill="#ff0000" /><rect x="255" y="200" width="3" height="5" fill="#ff0000" /><rect x="256" y="201" width="1" height="3" fill="#ff4500" /><rect x="260" y="186" width="1" height="20" fill="#ff0000" /><rect x="259" y="195" width="3" height="7" fill="#ff0000" /><rect x="260" y="196" width="1" height="5" fill="#ff4500" /><rect x="264" y="190" width="1" height="14" fill="#ff0000" /><rect x="263" y="191" width="3" height="6" fill="#ff0000" /><rect x="264" y="192" width="1" height="4" fill="#ff4500" /><rect x="268" y="183" width="1" height="17" fill="#ff0000" /><rect x="267" y="184" width="3" height="9" fill="#ff0000" /><rect x="268" y="185" width="1" height="7" fill="#ff4500" /><rect x="272" y="163" width="1" height="28" fill="#32cd32" /><rect x="271" y="184" width="3" height="4" fill="#32cd32" /><rect x="276" y="182" width="1" height="21" fill="#32cd32" /><rect x="275" y="187" width="3" height="12" fill="#32cd32" /><rect x="280" y="170" width="1" height="35" fill="#ff0000" /><rect x="279" y="180" width="3" height="17" fill="#ff0000" /><rect x="280" y="181" width="1" height="15" fill="#ff4500" /><rect x="284" y="172" width="1" height="19" fill="#32cd32" /><rect x="283" y="179" width="3" height="5" fill="#32cd32" /><rect x="288" y="152" width="1" height="35" fill="#ff0000" /><rect x="287" y="164" width="3" height="21" fill="#ff0000" /><rect x="288" y="165" width="1" height="19" fill="#ff4500" /><rect x="292" y="152" width="1" height="27" fill="#32cd32" /><rect x="291" y="164" width="3" height="12" fill="#32cd32" /><rect x="296" y="173" width="1" height="14" fill="#32cd32" /><rect x="295" y="179" width="3" height="4" fill="#32cd32" /><rect x="300" y="173" width="1" height="22" fill="#ff0000" /><rect x="299" y="176" width="3" height="7" fill="#ff0000" /><rect x="300" y="177" width="1" height="5" fill="#ff4500" /><rect x="304" y="171" width="1" height="44" fill="#32cd32" /><rect x="303" y="176" width="3" height="24" fill="#32cd32" /><rect x="308" y="195" width="1" height="12" fill="#ff0000" /><rect x="307" y="196" width="3" height="4" fill="#ff0000" /><rect x="308" y="197" width="1" height="2" fill="#ff4500" /><rect x="312" y="183" width="1" height="17" fill="#ff0000" /><rect x="311" y="184" width="3" height="15" fill="#ff0000" /><rect x="312" y="185" width="1" height="13" fill="#ff4500" /><rect x="316" y="155" width="1" height="30" fill="#ff0000" /><rect x="315" y="159" width="3" height="24" fill="#ff0000" /><rect x="316" y="160" width="1" height="22" fill="#ff4500" /><rect x="320" y="157" width="1" height="20" fill="#32cd32" /><rect x="319" y="159" width="3" height="14" fill="#32cd32" /><rect x="324" y="168" width="1" height="36" fill="#32cd32" /><rect x="323" y="171" width="3" height="26" fill="#32cd32" /><rect x="328" y="179" width="1" height="20" fill="#ff0000" /><rect x="327" y="184" width="3" height="13" fill="#ff0000" /><rect x="328" y="185" width="1" height="11" fill="#ff4500" /><rect x="332" y="168" width="1" height="23" fill="#ff0000" /><rect x="331" y="182" width="3" height="3" fill="#ff0000" /><rect x="332" y="183" width="1" height="1" fill="#ff4500" /><rect x="336" y="159" width="1" height="25" fill="#ff0000" /><rect x="335" y="175" width="3" height="8" fill="#ff0000" /><rect x="336" y="176" width="1" height="6" fill="#ff4500" /><rect x="340" y="117" width="1" height="66" fill="#ff0000" /><rect x="339" y="126" width="3" height="51" fill="#ff0000" /><rect x="340" y="127" width="1" height="49" fill="#ff4500" /><rect x="344" y="125" width="1" height="51" fill="#32cd32" /><rect x="343" y="126" width="3" height="43" fill="#32cd32" /><rect x="348" y="161" width="1" height="47" fill="#32cd32" /><rect x="347" y="167" width="3" height="37" fill="#32cd32" /><rect x="352" y="184" width="1" height="29" fill="#ff0000" /><rect x="351" y="194" width="3" height="10" fill="#ff0000" /><rect x="352" y="195" width="1" height="8" fill="#ff4500" /><rect x="356" y="186" width="1" height="18" fill="#32cd32" /><rect x="355" y="194" width="3" height="5" fill="#32cd32" /><rect x="360" y="190" width="1" height="13" fill="#ff0000" /><rect x="359" y="195" width="3" height="4" fill="#ff0000" /><rect x="360" y="196" width="1" height="2" fill="#ff4500" /><rect x="364" y="193" width="1" height="18" fill="#32cd32" /><rect x="363" y="195" width="3" height="5" fill="#32cd32" /><rect x="368" y="195" width="1" height="15" fill="#32cd32" /><rect x="367" y="197" width="3" height="5" fill="#32cd32" /><rect x="372" y="172" width="1" height="31" fill="#ff0000" /><rect x="371" y="179" width="3" height="23" fill="#ff0000" /><rect x="372" y="180" width="1" height="21" fill="#ff4500" /><rect x="376" y="167" width="1" height="17" fill="#ff0000" /><rect x="375" y="170" width="3" height="6" fill="#ff0000" /><rect x="376" y="171" width="1" height="4" fill="#ff4500" /><rect x="380" y="166" width="1" height="13" fill="#ff0000" /><rect x="379" y="168" width="3" height="5" fill="#ff0000" /><rect x="380" y="169" width="1" height="3" fill="#ff4500" /><rect x="384" y="161" width="1" height="27" fill="#32cd32" /><rect x="383" y="168" width="3" height="15" fill="#32cd32" /><rect x="388" y="174" width="1" height="11" fill="#ff0000" /><rect x="387" y="179" width="3" height="4" fill="#ff0000" /><rect x="388" y="180" width="1" height="2" fill="#ff4500" /><rect x="392" y="170" width="1" height="15" fill="#32cd32" /><rect x="391" y="180" width="3" height="3" fill="#32cd32" /><rect x="396" y="172" width="1" height="16" fill="#32cd32" /><rect x="395" y="176" width="3" height="8" fill="#32cd32" /><rect x="400" y="156" width="1" height="28" fill="#ff0000" /><rect x="399" y="162" width="3" height="21" fill="#ff0000" /><rect x="400" y="163" width="1" height="19" fill="#ff4500" /><rect x="404" y="160" width="1" height="19" fill="#32cd32" /><rect x="403" y="161" width="3" height="11" fill="#32cd32" /><rect x="408" y="147" width="1" height="25" fill="#ff0000" /><rect x="407" y="153" width="3" height="18" fill="#ff0000" /><rect x="408" y="154" width="1" height="16" fill="#ff4500" /><rect x="412" y="140" width="1" height="19" fill="#32cd32" /><rect x="411" y="152" width="3" height="3" fill="#32cd32" /><rect x="416" y="152" width="1" height="33" fill="#32cd32" /><rect x="415" y="152" width="3" height="27" fill="#32cd32" /><rect x="420" y="170" width="1" height="27" fill="#32cd32" /><rect x="419" y="178" width="3" height="13" fill="#32cd32" /><rect x="424" y="178" width="1" height="16" fill="#ff0000" /><rect x="423" y="188" width="3" height="3" fill="#ff0000" /><rect x="424" y="189" width="1" height="1" fill="#ff4500" /><rect x="428" y="170" width="1" height="22" fill="#ff0000" /><rect x="427" y="174" width="3" height="17" fill="#ff0000" /><rect x="428" y="175" width="1" height="15" fill="#ff4500" /><rect x="432" y="169" width="1" height="35" fill="#32cd32" /><rect x="431" y="174" width="3" height="27" fill="#32cd32" /><rect x="436" y="191" width="1" height="10" fill="#ff0000" /><rect x="435" y="194" width="3" height="6" fill="#ff0000" /><rect x="436" y="195" width="1" height="4" fill="#ff4500" /><rect x="440" y="187" width="1" height="32" fill="#32cd32" /><rect x="439" y="194" width="3" height="17" fill="#32cd32" /><rect x="444" y="197" width="1" height="22" fill="#32cd32" /><rect x="443" y="209" width="3" height="4" fill="#32cd32" /><rect x="448" y="203" width="1" height="16" fill="#32cd32" /><rect x="447" y="210" width="3" height="7" fill="#32cd32" /><rect x="452" y="205" width="1" height="42" fill="#32cd32" /><rect x="451" y="214" width="3" height="17" fill="#32cd32" /><rect x="456" y="209" width="1" height="22" fill="#ff0000" /><rect x="455" y="213" width="3" height="17" fill="#ff0000" /><rect x="456" y="214" width="1" height="15" fill="#ff4500" /><rect x="460" y="195" width="1" height="23" fill="#ff0000" /><rect x="459" y="199" width="3" height="17" fill="#ff0000" /><rect x="460" y="200" width="1" height="15" fill="#ff4500" /><rect x="464" y="197" width="1" height="15" fill="#32cd32" /><rect x="463" y="199" width="3" height="6" fill="#32cd32" /><rect x="468" y="198" width="1" height="22" fill="#32cd32" /><rect x="467" y="202" width="3" height="12" fill="#32cd32" /><rect x="472" y="207" width="1" height="38" fill="#32cd32" /><rect x="471" y="212" width="3" height="12" fill="#32cd32" /><rect x="476" y="209" width="1" height="19" fill="#ff0000" /><rect x="475" y="223" width="3" height="4" fill="#ff0000" /><rect x="476" y="224" width="1" height="2" fill="#ff4500" /><rect x="480" y="217" width="1" height="22" fill="#32cd32" /><rect x="479" y="222" width="3" height="9" fill="#32cd32" /><rect x="484" y="222" width="1" height="25" fill="#32cd32" /><rect x="483" y="229" width="3" height="13" fill="#32cd32" /><rect x="488" y="208" width="1" height="35" fill="#ff0000" /><rect x="487" y="210" width="3" height="32" fill="#ff0000" /><rect x="488" y="211" width="1" height="30" fill="#ff4500" /><rect x="492" y="186" width="1" height="37" fill="#ff0000" /><rect x="491" y="188" width="3" height="23" fill="#ff0000" /><rect x="492" y="189" width="1" height="21" fill="#ff4500" /><rect x="496" y="167" width="1" height="23" fill="#ff0000" /><rect x="495" y="175" width="3" height="12" fill="#ff0000" /><rect x="496" y="176" width="1" height="10" fill="#ff4500" /><rect x="500" y="167" width="1" height="18" fill="#ff0000" /><rect x="499" y="170" width="3" height="7" fill="#ff0000" /><rect x="500" y="171" width="1" height="5" fill="#ff4500" /><rect x="504" y="168" width="1" height="42" fill="#32cd32" /><rect x="503" y="171" width="3" height="19" fill="#32cd32" /><rect x="508" y="182" width="1" height="31" fill="#32cd32" /><rect x="507" y="187" width="3" height="13" fill="#32cd32" /><rect x="512" y="185" width="1" height="20" fill="#ff0000" /><rect x="511" y="196" width="3" height="4" fill="#ff0000" /><rect x="512" y="197" width="1" height="2" fill="#ff4500" /><rect x="516" y="190" width="1" height="19" fill="#32cd32" /><rect x="515" y="200" width="3" height="3" fill="#32cd32" /><rect x="520" y="187" width="1" height="23" fill="#ff0000" /><rect x="519" y="188" width="3" height="15" fill="#ff0000" /><rect x="520" y="189" width="1" height="13" fill="#ff4500" /><rect x="524" y="177" width="1" height="18" fill="#ff0000" /><rect x="523" y="179" width="3" height="11" fill="#ff0000" /><rect x="524" y="180" width="1" height="9" fill="#ff4500" /><rect x="528" y="177" width="1" height="44" fill="#32cd32" /><rect x="527" y="179" width="3" height="38" fill="#32cd32" /><rect x="532" y="200" width="1" height="41" fill="#32cd32" /><rect x="531" y="215" width="3" height="23" fill="#32cd32" /><rect x="536" y="203" width="1" height="24" fill="#ff0000" /><rect x="535" y="213" width="3" height="11" fill="#ff0000" /><rect x="536" y="214" width="1" height="9" fill="#ff4500" /><rect x="540" y="202" width="1" height="23" fill="#32cd32" /><rect x="539" y="214" width="3" height="3" fill="#32cd32" /><rect x="544" y="188" width="1" height="30" fill="#ff0000" /><rect x="543" y="206" width="3" height="10" fill="#ff0000" /><rect x="544" y="207" width="1" height="8" fill="#ff4500" /><rect x="548" y="204" width="1" height="13" fill="#32cd32" /><rect x="547" y="206" width="3" height="9" fill="#32cd32" /><rect x="552" y="207" width="1" height="18" fill="#32cd32" /><rect x="551" y="213" width="3" height="10" fill="#32cd32" /><rect x="556" y="201" width="1" height="31" fill="#ff0000" /><rect x="555" y="202" width="3" height="19" fill="#ff0000" /><rect x="556" y="203" width="1" height="17" fill="#ff4500" /><rect x="560" y="196" width="1" height="14" fill="#32cd32" /><rect x="559" y="203" width="3" height="5" fill="#32cd32" /><rect x="564" y="205" width="1" height="41" fill="#32cd32" /><rect x="563" y="206" width="3" height="37" fill="#32cd32" /><rect x="568" y="226" width="1" height="18" fill="#ff0000" /><rect x="567" y="231" width="3" height="10" fill="#ff0000" /><rect x="568" y="232" width="1" height="8" fill="#ff4500" /><rect x="572" y="228" width="1" height="21" fill="#32cd32" /><rect x="571" y="230" width="3" height="5" fill="#32cd32" /><rect x="576" y="227" width="1" height="18" fill="#32cd32" /><rect x="575" y="236" width="3" height="6" fill="#32cd32" /><rect x="580" y="240" width="1" height="74" fill="#32cd32" /><rect x="579" y="240" width="3" height="67" fill="#32cd32" /><rect x="584" y="280" width="1" height="29" fill="#ff0000" /><rect x="583" y="284" width="3" height="22" fill="#ff0000" /><rect x="584" y="285" width="1" height="20" fill="#ff4500" /><rect x="588" y="275" width="1" height="23" fill="#ff0000" /><rect x="587" y="283" width="3" height="2" fill="#ff0000" /><rect x="592" y="277" width="1" height="28" fill="#32cd32" /><rect x="591" y="282" width="3" height="14" fill="#32cd32" /><rect x="596" y="289" width="1" height="18" fill="#32cd32" /><rect x="595" y="296" width="3" height="5" fill="#32cd32" /><rect x="600" y="293" width="1" height="13" fill="#32cd32" /><rect x="599" y="299" width="3" height="4" fill="#32cd32" /><rect x="604" y="279" width="1" height="26" fill="#ff0000" /><rect x="603" y="282" width="3" height="19" fill="#ff0000" /><rect x="604" y="283" width="1" height="17" fill="#ff4500" /><rect x="608" y="270" width="1" height="23" fill="#32cd32" /><rect x="607" y="282" width="3" height="8" fill="#32cd32" /><rect x="612" y="262" width="1" height="37" fill="#ff0000" /><rect x="611" y="265" width="3" height="24" fill="#ff0000" /><rect x="612" y="266" width="1" height="22" fill="#ff4500" /><rect x="616" y="264" width="1" height="22" fill="#32cd32" /><rect x="615" y="266" width="3" height="17" fill="#32cd32" /><rect x="620" y="270" width="1" height="17" fill="#ff0000" /><rect x="619" y="273" width="3" height="10" fill="#ff0000" /><rect x="620" y="274" width="1" height="8" fill="#ff4500" /><rect x="624" y="267" width="1" height="20" fill="#32cd32" /><rect x="623" y="272" width="3" height="13" fill="#32cd32" /><rect x="628" y="273" width="1" height="15" fill="#ff0000" /><rect x="627" y="280" width="3" height="6" fill="#ff0000" /><rect x="628" y="281" width="1" height="4" fill="#ff4500" /><rect x="632" y="266" width="1" height="18" fill="#ff0000" /><rect x="631" y="277" width="3" height="4" fill="#ff0000" /><rect x="632" y="278" width="1" height="2" fill="#ff4500" /><rect x="636" y="276" width="1" height="20" fill="#32cd32" /><rect x="635" y="278" width="3" height="12" fill="#32cd32" /><rect x="640" y="278" width="1" height="17" fill="#32cd32" /><rect x="639" y="289" width="3" height="4" fill="#32cd32" /><rect x="644" y="273" width="1" height="22" fill="#ff0000" /><rect x="643" y="275" width="3" height="16" fill="#ff0000" /><rect x="644" y="276" width="1" height="14" fill="#ff4500" /><rect x="648" y="265" width="1" height="31" fill="#32cd32" /><rect x="647" y="275" width="3" height="11" fill="#32cd32" /><rect x="652" y="283" width="1" height="28" fill="#32cd32" /><rect x="651" y="285" width="3" height="14" fill="#32cd32" /><rect x="656" y="294" width="1" height="16" fill="#ff0000" /><rect x="655" y="297" width="3" height="6" fill="#ff0000" /><rect x="656" y="298" width="1" height="4" fill="#ff4500" /><rect x="660" y="278" width="1" height="46" fill="#ff0000" /><rect x="659" y="287" width="3" height="12" fill="#ff0000" /><rect x="660" y="288" width="1" height="10" fill="#ff4500" /><rect x="664" y="283" width="1" height="28" fill="#32cd32" /><rect x="663" y="286" width="3" height="20" fill="#32cd32" /><rect x="668" y="287" width="1" height="22" fill="#ff0000" /><rect x="667" y="300" width="3" height="7" fill="#ff0000" /><rect x="668" y="301" width="1" height="5" fill="#ff4500" /><rect x="672" y="281" width="1" height="21" fill="#ff0000" /><rect x="671" y="286" width="3" height="15" fill="#ff0000" /><rect x="672" y="287" width="1" height="13" fill="#ff4500" /><rect x="676" y="281" width="1" height="23" fill="#32cd32" /><rect x="675" y="284" width="3" height="7" fill="#32cd32" /><rect x="680" y="281" width="1" height="16" fill="#ff0000" /><rect x="679" y="287" width="3" height="3" fill="#ff0000" /><rect x="680" y="288" width="1" height="1" fill="#ff4500" /><rect x="684" y="277" width="1" height="15" fill="#ff0000" /><rect x="683" y="281" width="3" height="7" fill="#ff0000" /><rect x="684" y="282" width="1" height="5" fill="#ff4500" /><rect x="688" y="280" width="1" height="15" fill="#32cd32" /><rect x="687" y="281" width="3" height="8" fill="#32cd32" /><rect x="692" y="275" width="1" height="15" fill="#ff0000" /><rect x="691" y="276" width="3" height="12" fill="#ff0000" /><rect x="692" y="277" width="1" height="10" fill="#ff4500" /><rect x="696" y="281" width="1" height="19" fill="#32cd32" /><rect x="695" y="281" width="3" height="15" fill="#32cd32" /><rect x="700" y="294" width="1" height="28" fill="#32cd32" /><rect x="699" y="294" width="3" height="22" fill="#32cd32" /><rect x="704" y="306" width="1" height="16" fill="#ff0000" /><rect x="703" y="310" width="3" height="6" fill="#ff0000" /><rect x="704" y="311" width="1" height="4" fill="#ff4500" /><rect x="708" y="302" width="1" height="14" fill="#ff0000" /><rect x="707" y="309" width="3" height="2" fill="#ff0000" /><rect x="712" y="300" width="1" height="17" fill="#ff0000" /><rect x="711" y="307" width="3" height="2" fill="#ff0000" /><rect x="716" y="300" width="1" height="16" fill="#ff0000" /><rect x="715" y="305" width="3" height="2" fill="#ff0000" /><rect x="720" y="304" width="1" height="21" fill="#32cd32" /><rect x="719" y="306" width="3" height="14" fill="#32cd32" /><rect x="724" y="317" width="1" height="44" fill="#32cd32" /><rect x="723" y="318" width="3" height="26" fill="#32cd32" /><rect x="728" y="295" width="1" height="56" fill="#ff0000" /><rect x="727" y="304" width="3" height="40" fill="#ff0000" /><rect x="728" y="305" width="1" height="38" fill="#ff4500" /><rect x="732" y="288" width="1" height="32" fill="#32cd32" /><rect x="731" y="303" width="3" height="3" fill="#32cd32" /><rect x="736" y="303" width="1" height="17" fill="#32cd32" /><rect x="735" y="305" width="3" height="5" fill="#32cd32" /><rect x="740" y="305" width="1" height="12" fill="#32cd32" /><rect x="739" y="307" width="3" height="4" fill="#32cd32" /><rect x="744" y="298" width="1" height="16" fill="#ff0000" /><rect x="743" y="305" width="3" height="6" fill="#ff0000" /><rect x="744" y="306" width="1" height="4" fill="#ff4500" /><rect x="748" y="298" width="1" height="14" fill="#ff0000" /><rect x="747" y="302" width="3" height="4" fill="#ff0000" /><rect x="748" y="303" width="1" height="2" fill="#ff4500" /><rect x="752" y="282" width="1" height="26" fill="#ff0000" /><rect x="751" y="293" width="3" height="9" fill="#ff0000" /><rect x="752" y="294" width="1" height="7" fill="#ff4500" /><rect x="756" y="287" width="1" height="14" fill="#32cd32" /><rect x="755" y="290" width="3" height="7" fill="#32cd32" /><rect x="760" y="293" width="1" height="15" fill="#32cd32" /><rect x="759" y="295" width="3" height="10" fill="#32cd32" /><rect x="764" y="297" width="1" height="13" fill="#32cd32" /><rect x="763" y="301" width="3" height="3" fill="#32cd32" /><rect x="768" y="300" width="1" height="11" fill="#32cd32" /><rect x="767" y="303" width="3" height="4" fill="#32cd32" /><rect x="772" y="300" width="1" height="9" fill="#32cd32" /><rect x="771" y="303" width="3" height="4" fill="#32cd32" /><rect x="776" y="303" width="1" height="11" fill="#ff0000" /><rect x="775" y="306" width="3" height="5" fill="#ff0000" /><rect x="776" y="307" width="1" height="3" fill="#ff4500" /><rect x="780" y="302" width="1" height="11" fill="#32cd32" /><rect x="779" y="307" width="3" height="4" fill="#32cd32" /><rect x="784" y="307" width="1" height="12" fill="#32cd32" /><rect x="783" y="308" width="3" height="7" fill="#32cd32" /><rect x="788" y="300" width="1" height="18" fill="#ff0000" /><rect x="787" y="305" width="3" height="10" fill="#ff0000" /><rect x="788" y="306" width="1" height="8" fill="#ff4500" /><rect x="792" y="301" width="1" height="52" fill="#32cd32" /><rect x="791" y="305" width="3" height="15" fill="#32cd32" /><rect x="796" y="307" width="1" height="29" fill="#ff0000" /><rect x="795" y="311" width="3" height="15" fill="#ff0000" /><rect x="796" y="312" width="1" height="13" fill="#ff4500" /><rect x="800" y="296" width="1" height="19" fill="#ff0000" /><rect x="799" y="307" width="3" height="5" fill="#ff0000" /><rect x="800" y="308" width="1" height="3" fill="#ff4500" /><rect x="804" y="303" width="1" height="14" fill="#32cd32" /><rect x="803" y="305" width="3" height="3" fill="#32cd32" /><rect x="808" y="278" width="1" height="32" fill="#ff0000" /><rect x="807" y="285" width="3" height="24" fill="#ff0000" /><rect x="808" y="286" width="1" height="22" fill="#ff4500" /><rect x="812" y="283" width="1" height="21" fill="#32cd32" /><rect x="811" y="285" width="3" height="13" fill="#32cd32" /><rect x="816" y="292" width="1" height="11" fill="#32cd32" /><rect x="815" y="297" width="3" height="4" fill="#32cd32" /><rect x="820" y="294" width="1" height="12" fill="#32cd32" /><rect x="819" y="299" width="3" height="5" fill="#32cd32" /><rect x="824" y="303" width="1" height="23" fill="#32cd32" /><rect x="823" y="303" width="3" height="19" fill="#32cd32" /><rect x="828" y="313" width="1" height="16" fill="#32cd32" /><rect x="827" y="319" width="3" height="4" fill="#32cd32" /><rect x="832" y="315" width="1" height="32" fill="#32cd32" /><rect x="831" y="321" width="3" height="10" fill="#32cd32" /><rect x="836" y="318" width="1" height="22" fill="#32cd32" /><rect x="835" y="329" width="3" height="8" fill="#32cd32" /><rect x="840" y="321" width="1" height="29" fill="#ff0000" /><rect x="839" y="325" width="3" height="11" fill="#ff0000" /><rect x="840" y="326" width="1" height="9" fill="#ff4500" /><rect x="844" y="321" width="1" height="19" fill="#32cd32" /><rect x="843" y="325" width="3" height="10" fill="#32cd32" /><rect x="848" y="333" width="1" height="15" fill="#32cd32" /><rect x="847" y="333" width="3" height="7" fill="#32cd32" /><rect x="852" y="333" width="1" height="20" fill="#32cd32" /><rect x="851" y="338" width="3" height="9" fill="#32cd32" /><rect x="856" y="346" width="1" height="23" fill="#32cd32" /><rect x="855" y="347" width="3" height="12" fill="#32cd32" /><rect x="860" y="350" width="1" height="14" fill="#32cd32" /><rect x="859" y="357" width="3" height="5" fill="#32cd32" /><rect x="864" y="349" width="1" height="21" fill="#ff0000" /><rect x="863" y="353" width="3" height="9" fill="#ff0000" /><rect x="864" y="354" width="1" height="7" fill="#ff4500" /><rect x="868" y="305" width="1" height="50" fill="#ff0000" /><rect x="867" y="313" width="3" height="42" fill="#ff0000" /><rect x="868" y="314" width="1" height="40" fill="#ff4500" /><rect x="872" y="308" width="1" height="20" fill="#ff0000" /><rect x="871" y="310" width="3" height="3" fill="#ff0000" /><rect x="872" y="311" width="1" height="1" fill="#ff4500" /><rect x="876" y="292" width="1" height="26" fill="#ff0000" /><rect x="875" y="309" width="3" height="8" fill="#ff0000" /><rect x="876" y="310" width="1" height="6" fill="#ff4500" /><rect x="880" y="306" width="1" height="14" fill="#32cd32" /><rect x="879" y="310" width="3" height="4" fill="#32cd32" /><rect x="884" y="305" width="1" height="26" fill="#32cd32" /><rect x="883" y="312" width="3" height="15" fill="#32cd32" /><rect x="888" y="310" width="1" height="27" fill="#32cd32" /><rect x="887" y="327" width="3" height="8" fill="#32cd32" /><rect x="892" y="313" width="1" height="25" fill="#ff0000" /><rect x="891" y="320" width="3" height="14" fill="#ff0000" /><rect x="892" y="321" width="1" height="12" fill="#ff4500" /><rect x="896" y="313" width="1" height="16" fill="#ff0000" /><rect x="895" y="322" width="3" height="2" fill="#ff0000" /><rect x="900" y="304" width="1" height="24" fill="#ff0000" /><rect x="899" y="315" width="3" height="8" fill="#ff0000" /><rect x="900" y="316" width="1" height="6" fill="#ff4500" /><rect x="904" y="311" width="1" height="14" fill="#32cd32" /><rect x="903" y="315" width="3" height="6" fill="#32cd32" /><rect x="908" y="313" width="1" height="22" fill="#ff0000" /><rect x="907" y="318" width="3" height="3" fill="#ff0000" /><rect x="908" y="319" width="1" height="1" fill="#ff4500" /><rect x="912" y="312" width="1" height="20" fill="#ff0000" /><rect x="911" y="314" width="3" height="5" fill="#ff0000" /><rect x="912" y="315" width="1" height="3" fill="#ff4500" /></g><g shape-rendering="crispEdges"><path d="M20 388h21M14 389h6M41 389h7M11 390h3M48 390h4M9 391h2M52 391h3M7 392h2M55 392h2M5 393h2M57 393h1M4 394h1M58 394h2M60 395h2M280 395h34M62 396h1M272 396h8M314 396h13M63 397h1M268 397h4M327 397h13M64 398h2M265 398h3M340 398h11M66 399h1M263 399h2M351 399h4M67 400h1M261 400h2M355 400h4M68 401h2M259 401h2M359 401h5M70 402h1M258 402h1M364 402h5M71 403h1M257 403h1M369 403h6M72 404h2M255 404h2M375 404h7M408 404h28M74 405h1M254 405h1M382 405h10M400 405h8M436 405h4M75 406h1M253 406h1M392 406h8M440 406h4M76 407h2M252 407h1M444 407h2M78 408h1M250 408h2M446 408h3M529 408h7M79 409h1M249 409h1M449 409h3M524 409h5M536 409h6M80 410h2M248 410h1M452 410h3M521 410h3M542 410h6M820 410h12M82 411h1M246 411h2M455 411h4M519 411h2M548 411h8M812 411h8M832 411h11M910 411h3M83 412h1M245 412h1M459 412h4M515 412h4M556 412h9M778 412h34M843 412h6M906 412h4M84 413h2M244 413h1M463 413h6M509 413h6M565 413h10M772 413h6M849 413h4M902 413h4M86 414h1M243 414h1M469 414h5M504 414h5M575 414h6M765 414h7M853 414h4M897 414h5M87 415h2M242 415h1M474 415h6M498 415h6M581 415h2M758 415h7M857 415h4M892 415h5M89 416h2M240 416h2M480 416h18M583 416h3M706 416h8M752 416h6M861 416h5M884 416h8M91 417h2M239 417h1M586 417h2M699 417h7M714 417h12M747 417h5M866 417h18M93 418h3M238 418h1M588 418h3M691 418h8M726 418h21M96 419h4M237 419h1M591 419h3M683 419h8M100 420h4M236 420h1M594 420h2M675 420h8M104 421h4M234 421h2M596 421h3M667 421h8M108 422h3M233 422h1M599 422h3M659 422h8M111 423h2M232 423h1M602 423h3M651 423h8M113 424h2M230 424h2M605 424h2M645 424h6M115 425h2M229 425h1M607 425h3M639 425h6M117 426h4M227 426h2M610 426h3M634 426h5M121 427h8M225 427h2M613 427h4M625 427h9M129 428h8M223 428h2M617 428h8M137 429h6M221 429h2M143 430h21M219 430h2M164 431h6M217 431h2M170 432h4M215 432h2M174 433h4M213 433h2M178 434h4M210 434h3M182 435h4M206 435h4M186 436h20" transform="translate(0,0.5)" fill="none" stroke="#ff0000" stroke-width="1"/><path d="M243 467h2M340 467h1M4 468h1M241 468h2M245 468h1M340 468h2M5 469h2M10 469h3M237 469h4M246 469h2M287 469h3M339 469h1M341 469h1M7 470h3M13 470h1M231 470h6M248 470h2M285 470h2M290 470h2M317 470h1M339 470h1M342 470h1M14 471h2M227 471h4M250 471h2M263 471h10M279 471h6M292 471h2M316 471h1M318 471h1M338 471h1M342 471h1M16 472h1M31 472h2M225 472h2M252 472h11M273 472h2M277 472h2M294 472h2M315 472h1M319 472h1M338 472h1M343 472h1M408 472h5M499 472h2M17 473h2M29 473h2M33 473h2M224 473h1M275 473h2M296 473h5M314 473h1M320 473h1M337 473h1M343 473h1M407 473h1M413 473h1M497 473h2M501 473h1M809 473h1M19 474h2M24 474h5M35 474h2M223 474h1M301 474h1M313 474h1M321 474h1M337 474h1M344 474h1M401 474h1M406 474h1M413 474h1M495 474h2M502 474h2M523 474h2M808 474h1M810 474h1M21 475h3M37 475h3M223 475h1M302 475h1M311 475h2M322 475h1M335 475h2M345 475h1M376 475h6M400 475h1M402 475h2M405 475h1M414 475h1M493 475h2M504 475h1M521 475h2M525 475h1M808 475h1M811 475h2M871 475h8M40 476h2M222 476h1M302 476h1M310 476h1M323 476h1M328 476h7M345 476h1M374 476h2M382 476h2M398 476h2M404 476h1M415 476h1M492 476h1M505 476h1M519 476h2M525 476h1M807 476h1M813 476h2M869 476h2M879 476h2M912 476h1M42 477h2M222 477h1M303 477h1M307 477h3M324 477h1M326 477h2M346 477h1M373 477h1M384 477h7M397 477h1M415 477h1M491 477h1M506 477h2M517 477h2M526 477h1M751 477h4M806 477h1M815 477h2M868 477h1M881 477h1M900 477h3M910 477h2M44 478h2M221 478h1M304 478h3M325 478h1M346 478h1M371 478h2M391 478h6M416 478h1M428 478h1M490 478h1M508 478h9M526 478h1M557 478h2M692 478h1M749 478h2M755 478h3M806 478h1M817 478h2M868 478h1M882 478h1M893 478h1M898 478h2M903 478h7M46 479h2M50 479h2M221 479h1M347 479h1M351 479h4M369 479h2M417 479h1M426 479h2M429 479h1M489 479h1M527 479h1M544 479h3M556 479h1M559 479h3M683 479h2M690 479h2M693 479h1M747 479h2M758 479h2M803 479h3M819 479h2M867 479h1M883 479h2M892 479h1M894 479h1M896 479h2M48 480h2M52 480h1M218 480h3M347 480h1M349 480h2M355 480h14M418 480h2M425 480h1M430 480h1M460 480h2M488 480h1M527 480h1M542 480h2M547 480h3M555 480h1M562 480h1M681 480h2M685 480h2M689 480h1M694 480h2M728 480h7M744 480h3M760 480h11M788 480h1M798 480h5M821 480h1M867 480h1M885 480h1M890 480h2M895 480h1M53 481h2M216 481h2M348 481h1M420 481h5M431 481h1M459 481h1M462 481h4M488 481h1M528 481h1M538 481h4M550 481h2M554 481h1M562 481h1M645 481h1M673 481h8M687 481h2M696 481h1M728 481h1M735 481h9M771 481h8M787 481h1M789 481h1M796 481h2M822 481h1M867 481h1M886 481h2M889 481h1M55 482h1M214 482h2M432 482h5M458 482h1M466 482h3M487 482h1M528 482h1M536 482h2M552 482h2M563 482h1M612 482h1M619 482h3M644 482h1M646 482h1M660 482h1M671 482h2M697 482h1M728 482h1M779 482h2M786 482h1M790 482h1M794 482h2M823 482h1M866 482h1M888 482h1M56 483h1M213 483h1M437 483h2M457 483h1M469 483h2M487 483h1M529 483h1M534 483h2M563 483h1M611 483h1M613 483h2M617 483h2M622 483h2M628 483h6M643 483h1M647 483h2M658 483h2M661 483h1M669 483h2M698 483h1M727 483h1M781 483h2M785 483h1M791 483h1M793 483h1M824 483h1M866 483h1M57 484h2M101 484h5M124 484h2M145 484h2M151 484h2M199 484h2M211 484h2M439 484h8M456 484h1M471 484h2M474 484h3M487 484h1M530 484h2M533 484h1M564 484h1M568 484h8M610 484h1M615 484h2M624 484h4M634 484h3M642 484h1M649 484h2M657 484h1M662 484h1M667 484h2M699 484h1M712 484h6M727 484h1M783 484h2M792 484h1M825 484h6M841 484h1M866 484h1M59 485h2M65 485h4M99 485h2M106 485h1M123 485h1M126 485h2M144 485h1M147 485h4M153 485h1M188 485h2M197 485h2M201 485h2M209 485h2M447 485h2M454 485h2M473 485h1M477 485h3M486 485h1M532 485h1M564 485h1M566 485h2M576 485h1M609 485h1M637 485h2M641 485h1M651 485h6M663 485h1M665 485h2M700 485h1M703 485h9M718 485h1M727 485h1M831 485h2M840 485h1M842 485h2M866 485h1M61 486h4M69 486h2M81 486h1M98 486h1M107 486h1M123 486h1M128 486h11M143 486h1M154 486h1M186 486h2M190 486h7M203 486h6M449 486h2M453 486h1M480 486h2M486 486h1M565 486h1M577 486h1M604 486h5M639 486h2M664 486h1M701 486h2M719 486h2M727 486h1M833 486h2M838 486h2M844 486h2M865 486h1M71 487h3M79 487h2M82 487h2M95 487h3M108 487h1M122 487h1M139 487h2M142 487h1M155 487h1M185 487h1M451 487h2M482 487h2M485 487h1M578 487h1M586 487h4M602 487h2M721 487h1M726 487h1M835 487h1M837 487h1M846 487h3M865 487h1M74 488h2M78 488h1M84 488h2M92 488h3M109 488h1M121 488h1M141 488h1M156 488h2M183 488h2M484 488h2M578 488h1M584 488h2M590 488h2M601 488h1M722 488h1M726 488h1M836 488h1M849 488h2M865 488h1M76 489h2M86 489h2M90 489h2M110 489h1M121 489h1M158 489h3M181 489h2M579 489h1M583 489h1M592 489h9M723 489h1M726 489h1M851 489h2M864 489h1M88 490h2M111 490h1M120 490h1M161 490h1M179 490h2M579 490h1M582 490h1M723 490h1M726 490h1M853 490h2M864 490h1M111 491h1M118 491h2M162 491h2M177 491h2M580 491h2M724 491h2M855 491h2M862 491h2M112 492h1M115 492h3M164 492h2M175 492h2M580 492h1M725 492h1M857 492h2M861 492h1M113 493h2M166 493h4M173 493h2M859 493h2M170 494h3" transform="translate(0,0.5)" fill="none" stroke="#1e90ff" stroke-width="1"/></g><g><text x="1156.0" y="48.2" font-size="9.3" fill="#000" textLength="33.0" lengthAdjust="spacingAndGlyphs"  stroke="#000" stroke-width="0.15">6.58730</text><text x="1156.0" y="81.2" font-size="9.3" fill="#000" textLength="33.0" lengthAdjust="spacingAndGlyphs"  stroke="#000" stroke-width="0.15">6.56010</text><text x="1156.0" y="114.2" font-size="9.3" fill="#000" textLength="33.0" lengthAdjust="spacingAndGlyphs"  stroke="#000" stroke-width="0.15">6.53370</text><text x="1156.0" y="147.2" font-size="9.3" fill="#000" textLength="33.0" lengthAdjust="spacingAndGlyphs"  stroke="#000" stroke-width="0.15">6.50650</text><text x="1156.0" y="180.2" font-size="9.3" fill="#000" textLength="33.0" lengthAdjust="spacingAndGlyphs"  stroke="#000" stroke-width="0.15">6.47930</text><text x="1156.0" y="213.2" font-size="9.3" fill="#000" textLength="33.0" lengthAdjust="spacingAndGlyphs"  stroke="#000" stroke-width="0.15">6.45290</text><text x="1156.0" y="246.2" font-size="9.3" fill="#000" textLength="33.0" lengthAdjust="spacingAndGlyphs"  stroke="#000" stroke-width="0.15">6.42570</text><text x="1156.0" y="279.2" font-size="9.3" fill="#000" textLength="33.0" lengthAdjust="spacingAndGlyphs"  stroke="#000" stroke-width="0.15">6.39850</text><text x="1156.0" y="312.2" font-size="9.3" fill="#000" textLength="33.0" lengthAdjust="spacingAndGlyphs"  stroke="#000" stroke-width="0.15">6.37210</text><text x="1156.0" y="345.2" font-size="9.3" fill="#000" textLength="33.0" lengthAdjust="spacingAndGlyphs"  stroke="#000" stroke-width="0.15">6.34490</text><text x="1156.0" y="378.2" font-size="9.3" fill="#000" textLength="33.0" lengthAdjust="spacingAndGlyphs"  stroke="#000" stroke-width="0.15">6.31850</text></g><g><text x="0.8" y="15.1" font-size="9.9" fill="#2a2a2a" textLength="4.4" lengthAdjust="spacingAndGlyphs"  stroke="#2a2a2a" stroke-width="0.15">5</text><text x="16.0" y="15.1" font-size="9.9" fill="#2a2a2a" textLength="17.0" lengthAdjust="spacingAndGlyphs"  stroke="#2a2a2a" stroke-width="0.15">M30</text><text x="47.0" y="15.1" font-size="9.9" fill="#2a2a2a" textLength="11.0" lengthAdjust="spacingAndGlyphs"  stroke="#2a2a2a" stroke-width="0.15">H1</text><text x="73.5" y="15.1" font-size="9.9" fill="#2a2a2a" textLength="12.5" lengthAdjust="spacingAndGlyphs"  stroke="#2a2a2a" stroke-width="0.15">H4</text><text x="102.5" y="15.1" font-size="9.9" fill="#2a2a2a" textLength="11.8" lengthAdjust="spacingAndGlyphs"  stroke="#2a2a2a" stroke-width="0.15">D1</text><text x="130.2" y="15.1" font-size="9.9" fill="#2a2a2a" textLength="14.1" lengthAdjust="spacingAndGlyphs"  stroke="#2a2a2a" stroke-width="0.15">W1</text><text x="156.6" y="15.1" font-size="9.9" fill="#2a2a2a" textLength="14.7" lengthAdjust="spacingAndGlyphs"  stroke="#2a2a2a" stroke-width="0.15">MN</text><text x="1154.0" y="390.0" font-size="9.4" fill="#000" textLength="32.4" lengthAdjust="spacingAndGlyphs"  stroke="#000" stroke-width="0.15">0.02607</text><text x="1154.0" y="412.0" font-size="9.4" fill="#000" textLength="17.6" lengthAdjust="spacingAndGlyphs"  stroke="#000" stroke-width="0.15">0.00</text><text x="1154.4" y="440.0" font-size="9.4" fill="#000" textLength="38.1" lengthAdjust="spacingAndGlyphs"  stroke="#000" stroke-width="0.15">-0.031872</text><text x="1154.5" y="455.8" font-size="9.4" fill="#000" textLength="14.5" lengthAdjust="spacingAndGlyphs"  stroke="#000" stroke-width="0.15">100</text><text x="1153.4" y="469.8" font-size="9.4" fill="#000" textLength="9.2" lengthAdjust="spacingAndGlyphs"  stroke="#000" stroke-width="0.15">70</text><text x="1153.4" y="494.8" font-size="9.4" fill="#000" textLength="9.6" lengthAdjust="spacingAndGlyphs"  stroke="#000" stroke-width="0.15">30</text><text x="1154.5" y="507.8" font-size="9.4" fill="#000" textLength="4.5" lengthAdjust="spacingAndGlyphs"  stroke="#000" stroke-width="0.15">0</text><text x="8.6" y="392.0" font-size="9.7" fill="#000" textLength="153.4" lengthAdjust="spacingAndGlyphs"  stroke="#000" stroke-width="0.15">MACD(12,26,9) -0.000209 -0.002028</text><text x="8.6" y="458.2" font-size="9.7" fill="#000" textLength="67.4" lengthAdjust="spacingAndGlyphs"  stroke="#000" stroke-width="0.15">RSI(14) 53.2593</text><text x="3.5" y="524.0" font-size="9.6" fill="#000" textLength="51.1" lengthAdjust="spacingAndGlyphs"  stroke="#000" stroke-width="0.15">30 Mar 2021</text><text x="67.0" y="524.0" font-size="9.6" fill="#000" textLength="50.4" lengthAdjust="spacingAndGlyphs"  stroke="#000" stroke-width="0.15">22 Apr 2021</text><text x="131.0" y="524.0" font-size="9.6" fill="#000" textLength="54.4" lengthAdjust="spacingAndGlyphs"  stroke="#000" stroke-width="0.15">14 May 2021</text><text x="195.5" y="524.0" font-size="9.6" fill="#000" textLength="44.3" lengthAdjust="spacingAndGlyphs"  stroke="#000" stroke-width="0.15">7 Jun 2021</text><text x="259.4" y="524.0" font-size="9.6" fill="#000" textLength="48.9" lengthAdjust="spacingAndGlyphs"  stroke="#000" stroke-width="0.15">29 Jun 2021</text><text x="323.4" y="524.0" font-size="9.6" fill="#000" textLength="45.9" lengthAdjust="spacingAndGlyphs"  stroke="#000" stroke-width="0.15">21 Jul 2021</text><text x="386.9" y="524.0" font-size="9.6" fill="#000" textLength="52.4" lengthAdjust="spacingAndGlyphs"  stroke="#000" stroke-width="0.15">12 Aug 2021</text><text x="451.4" y="524.0" font-size="9.6" fill="#000" textLength="45.8" lengthAdjust="spacingAndGlyphs"  stroke="#000" stroke-width="0.15">3 Sep 2021</text><text x="514.9" y="524.0" font-size="9.6" fill="#000" textLength="51.9" lengthAdjust="spacingAndGlyphs"  stroke="#000" stroke-width="0.15">27 Sep 2021</text><text x="579.3" y="524.0" font-size="9.6" fill="#000" textLength="50.1" lengthAdjust="spacingAndGlyphs"  stroke="#000" stroke-width="0.15">19 Oct 2021</text><text x="643.0" y="524.0" font-size="9.6" fill="#000" textLength="54.0" lengthAdjust="spacingAndGlyphs"  stroke="#000" stroke-width="0.15">10 Nov 2021</text><text x="707.0" y="524.0" font-size="9.6" fill="#000" textLength="47.0" lengthAdjust="spacingAndGlyphs"  stroke="#000" stroke-width="0.15">2 Dec 2021</text><text x="771.7" y="524.0" font-size="9.6" fill="#000" textLength="51.3" lengthAdjust="spacingAndGlyphs"  stroke="#000" stroke-width="0.15">24 Dec 2021</text><text x="835.8" y="524.0" font-size="9.6" fill="#000" textLength="49.4" lengthAdjust="spacingAndGlyphs"  stroke="#000" stroke-width="0.15">17 Jan 2022</text><text x="899.4" y="524.0" font-size="9.6" fill="#000" textLength="46.4" lengthAdjust="spacingAndGlyphs"  stroke="#000" stroke-width="0.15">8 Feb 2022</text><text x="16.6" y="549.0" font-size="12.5" fill="#7d7d7d" textLength="77.5" lengthAdjust="spacingAndGlyphs" >USDX,Weekly</text><text x="116.9" y="549.0" font-size="12.5" fill="#7d7d7d" textLength="83.6" lengthAdjust="spacingAndGlyphs" >EURUSD-,Daily</text><text x="223.2" y="549.0" font-size="12.5" fill="#7d7d7d" textLength="86.1" lengthAdjust="spacingAndGlyphs" >AUDUSD-,Daily</text><text x="333.5" y="549.0" font-size="12.5" fill="#7d7d7d" textLength="83.1" lengthAdjust="spacingAndGlyphs" >USDCHF-,Daily</text><text x="440.8" y="549.0" font-size="12.5" fill="#7d7d7d" textLength="84.6" lengthAdjust="spacingAndGlyphs" >USDCAD-,Daily</text><text x="660.7" y="549.0" font-size="12.5" fill="#7d7d7d" textLength="72.2" lengthAdjust="spacingAndGlyphs" >XAUUSD-,H1</text><text x="756.7" y="549.0" font-size="12.5" fill="#7d7d7d" textLength="68.1" lengthAdjust="spacingAndGlyphs" >UKOil-,Daily</text><text x="850.0" y="549.0" font-size="12.5" fill="#7d7d7d" textLength="62.2" lengthAdjust="spacingAndGlyphs" >DJ30-,Daily</text><text x="937.0" y="549.0" font-size="12.5" fill="#7d7d7d" textLength="60.0" lengthAdjust="spacingAndGlyphs" >UK100-,H1</text><text x="549.3" y="549.0" font-size="12.5" fill="#000" textLength="87.7" lengthAdjust="spacingAndGlyphs" >USDCNH-,Daily</text><polygon points="1169,540 1169,547 1165.5,543.5" fill="#8a8a8a"/><polygon points="1184.5,540 1184.5,547 1188,543.5" fill="#8a8a8a"/><polygon points="6.8,38.2 14.2,38.2 10.5,33.8" fill="#000"/><text x="19.1" y="39.0" font-size="9.7" fill="#000" textLength="68.1" lengthAdjust="spacingAndGlyphs"  stroke="#000" stroke-width="0.15">USDCNH-,Daily</text><text x="94.2" y="39.0" font-size="9.7" fill="#000" textLength="140.6" lengthAdjust="spacingAndGlyphs"  stroke="#000" stroke-width="0.15">6.36384 6.36851 6.35313 6.36695</text></g><g shape-rendering="crispEdges"><rect x="1152" y="200" width="39" height="11" fill="#ff0000" /><rect x="1152" y="255" width="39" height="11" fill="#ff0000" /><rect x="1152" y="310" width="39" height="11" fill="#00ff00" /><rect x="1152" y="365" width="39" height="11" fill="#0000ff" /></g><g><text x="1155.8" y="209.0" font-size="9.3" fill="#fff" textLength="32.5" lengthAdjust="spacingAndGlyphs"  stroke="#fff" stroke-width="0.15">6.45515</text><text x="1155.8" y="264.0" font-size="9.3" fill="#fff" textLength="32.5" lengthAdjust="spacingAndGlyphs"  stroke="#fff" stroke-width="0.15">6.41043</text><text x="1155.8" y="319.0" font-size="9.3" fill="#fff" textLength="32.5" lengthAdjust="spacingAndGlyphs"  stroke="#fff" stroke-width="0.15">6.36570</text><text x="1155.8" y="374.0" font-size="9.3" fill="#fff" textLength="32.5" lengthAdjust="spacingAndGlyphs"  stroke="#fff" stroke-width="0.15">6.32098</text></g><g shape-rendering="crispEdges"><defs><linearGradient id="gb" x1="0" y1="47" x2="0" y2="71" gradientUnits="userSpaceOnUse"><stop offset="0" stop-color="#5858f8"/><stop offset="1" stop-color="#3636e6"/></linearGradient><linearGradient id="gp" x1="0" y1="71" x2="0" y2="104" gradientUnits="userSpaceOnUse"><stop offset="0" stop-color="#3232e4"/><stop offset="0.5" stop-color="#1414c8"/><stop offset="1" stop-color="#0000a6"/></linearGradient><linearGradient id="gs" x1="0" y1="0" x2="0" y2="1"><stop offset="0" stop-color="#f2f2f2"/><stop offset="0.45" stop-color="#e6e6e6"/><stop offset="0.5" stop-color="#d4d4d4"/><stop offset="1" stop-color="#cacaca"/></linearGradient></defs><rect x="7" y="47" width="221" height="59" fill="#fff" /><rect x="7" y="47" width="52" height="24" fill="url(#gb)" /><rect x="174" y="47" width="52" height="24" fill="url(#gb)" /><rect x="7" y="71" width="109" height="33" fill="url(#gp)" /><rect x="118" y="71" width="108" height="33" fill="url(#gp)" /><rect x="7" y="47" width="52" height="1" fill="#1a1ac0" /><rect x="174" y="47" width="52" height="1" fill="#1a1ac0" /><rect x="7" y="47" width="1" height="57" fill="#1a1ac0" /><rect x="58" y="47" width="1" height="24" fill="#3030d8" /><rect x="174" y="47" width="1" height="24" fill="#3030d8" /><rect x="225" y="47" width="1" height="57" fill="#1414b4" /><rect x="59" y="71" width="57" height="1" fill="#2626d4" /><rect x="118" y="71" width="56" height="1" fill="#2626d4" /><rect x="7" y="103" width="109" height="1" fill="#00009c" /><rect x="118" y="103" width="108" height="1" fill="#00009c" /><rect x="115" y="71" width="1" height="33" fill="#0c0cb4" /><rect x="118" y="71" width="1" height="33" fill="#1a1ac0" /><rect x="11" y="70" width="44" height="1" fill="#1c1cbc" /><rect x="11" y="71" width="44" height="1" fill="#8e8ef2" /><rect x="178" y="70" width="44" height="1" fill="#1c1cbc" /><rect x="178" y="71" width="44" height="1" fill="#8e8ef2" /><rect x="61" y="47" width="111" height="22" fill="#ababab" /><rect x="62" y="48" width="109" height="20" fill="#f4f4f4" /><rect x="63" y="49" width="19" height="18" fill="url(#gs)" /><rect x="151" y="49" width="19" height="18" fill="url(#gs)" /><rect x="82" y="48" width="1" height="20" fill="#c4c4c4" /><rect x="150" y="48" width="1" height="20" fill="#c4c4c4" /><rect x="83" y="48" width="67" height="20" fill="#fff" /></g><g><polygon points="68.8,56.2 74.4,56.2 71.6,59.2" fill="#4a5fc0"/><polygon points="157.8,59 163.6,59 160.7,56" fill="#4a5fc0"/><text x="123.4" y="61.6" font-size="12" fill="#000" textLength="23.2" lengthAdjust="spacingAndGlyphs" >3.00</text><text x="19.6" y="63.0" font-size="12.5" fill="#fff" textLength="25.2" lengthAdjust="spacingAndGlyphs" >SELL</text><text x="187.5" y="63.0" font-size="12.5" fill="#fff" textLength="22.5" lengthAdjust="spacingAndGlyphs" >BUY</text><text x="27.2" y="98.9" font-size="12.4" font-weight="bold" fill="#fff" textLength="24.1" lengthAdjust="spacingAndGlyphs" >6.36</text><text x="137.1" y="98.9" font-size="12.4" font-weight="bold" fill="#fff" textLength="24.1" lengthAdjust="spacingAndGlyphs" >6.36</text><text x="54.2" y="99.2" font-size="35.3" fill="#fff" textLength="36.4" lengthAdjust="spacingAndGlyphs" stroke="url(#gp)" stroke-width="0.45">69</text><text x="164.8" y="99.2" font-size="35.3" fill="#fff" textLength="36.8" lengthAdjust="spacingAndGlyphs" stroke="url(#gp)" stroke-width="0.45">90</text><text x="94.3" y="83.0" font-size="12.6" font-weight="bold" fill="#fff" textLength="7.1" lengthAdjust="spacingAndGlyphs" >5</text><text x="205.3" y="83.0" font-size="12.6" font-weight="bold" fill="#fff" textLength="7.1" lengthAdjust="spacingAndGlyphs" >3</text></g></svg></body></html>
